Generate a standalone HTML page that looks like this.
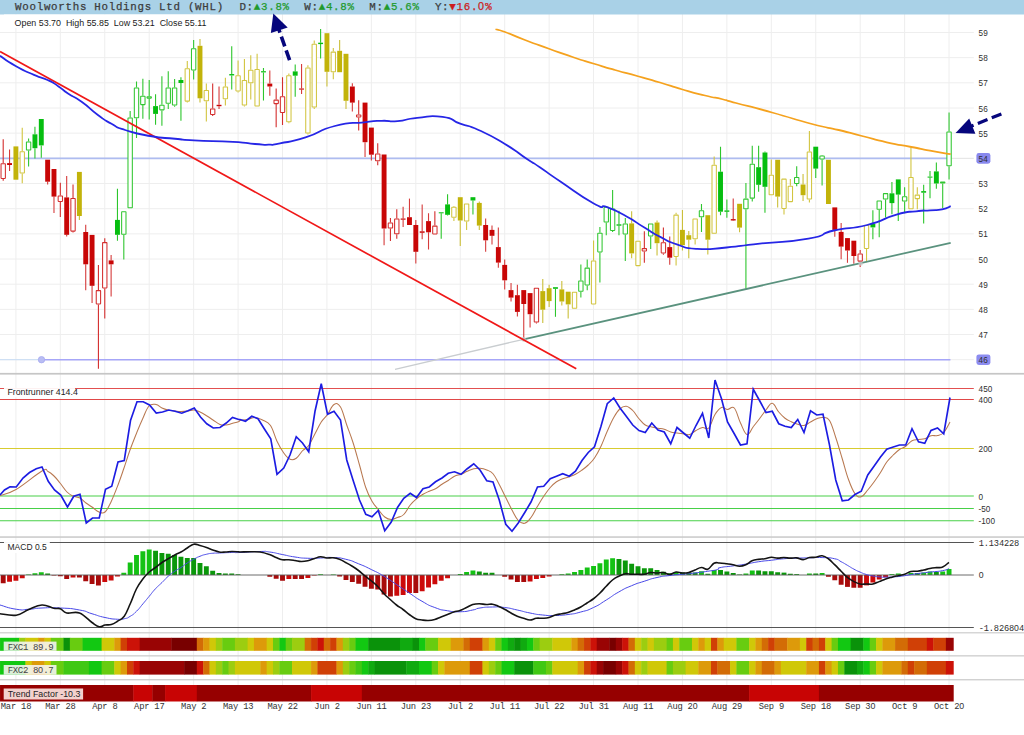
<!DOCTYPE html>
<html lang="en"><head><meta charset="utf-8"><title>Woolworths Holdings Ltd (WHL)</title>
<style>
html,body{margin:0;padding:0;background:#fff;overflow:hidden}
svg{display:block}
.mono{font-family:"Liberation Mono","DejaVu Sans Mono",monospace}
.sans,.z{font-family:"Liberation Sans","DejaVu Sans",sans-serif}
.ttl{font-size:10.8px;font-weight:normal;fill:#3c3c3c;stroke:#3c3c3c;stroke-width:0.25px}
.ax{font-size:8.2px;fill:#303030}
.axm{font-size:8.7px;fill:#303030}
.lbl{font-size:8.8px;fill:#1c1c1c}
.xl{font-size:8.8px;fill:#333333}
.fx{font-size:9px;fill:#444444}
.grid line{stroke:#eeeeee;stroke-width:1}
</style></head><body>
<svg width="1024" height="735" viewBox="0 0 1024 735">
<rect x="0" y="0" width="1024" height="735" fill="#ffffff"/>
<g class="grid">
<line x1="15.9" y1="14" x2="15.9" y2="702"/>
<line x1="60.33" y1="14" x2="60.33" y2="702"/>
<line x1="104.77" y1="14" x2="104.77" y2="702"/>
<line x1="149.2" y1="14" x2="149.2" y2="702"/>
<line x1="193.64" y1="14" x2="193.64" y2="702"/>
<line x1="238.08" y1="14" x2="238.08" y2="702"/>
<line x1="282.51" y1="14" x2="282.51" y2="702"/>
<line x1="326.95" y1="14" x2="326.95" y2="702"/>
<line x1="371.38" y1="14" x2="371.38" y2="702"/>
<line x1="415.82" y1="14" x2="415.82" y2="702"/>
<line x1="460.26" y1="14" x2="460.26" y2="702"/>
<line x1="504.69" y1="14" x2="504.69" y2="702"/>
<line x1="549.13" y1="14" x2="549.13" y2="702"/>
<line x1="593.56" y1="14" x2="593.56" y2="702"/>
<line x1="638" y1="14" x2="638" y2="702"/>
<line x1="682.44" y1="14" x2="682.44" y2="702"/>
<line x1="726.87" y1="14" x2="726.87" y2="702"/>
<line x1="771.31" y1="14" x2="771.31" y2="702"/>
<line x1="815.74" y1="14" x2="815.74" y2="702"/>
<line x1="860.18" y1="14" x2="860.18" y2="702"/>
<line x1="904.62" y1="14" x2="904.62" y2="702"/>
<line x1="949.05" y1="14" x2="949.05" y2="702"/>
<line x1="0" y1="359.7" x2="973.8" y2="359.7"/>
<line x1="0" y1="334.53" x2="973.8" y2="334.53"/>
<line x1="0" y1="309.36" x2="973.8" y2="309.36"/>
<line x1="0" y1="284.19" x2="973.8" y2="284.19"/>
<line x1="0" y1="259.02" x2="973.8" y2="259.02"/>
<line x1="0" y1="233.85" x2="973.8" y2="233.85"/>
<line x1="0" y1="208.68" x2="973.8" y2="208.68"/>
<line x1="0" y1="183.51" x2="973.8" y2="183.51"/>
<line x1="0" y1="133.17" x2="973.8" y2="133.17"/>
<line x1="0" y1="108" x2="973.8" y2="108"/>
<line x1="0" y1="82.83" x2="973.8" y2="82.83"/>
<line x1="0" y1="57.66" x2="973.8" y2="57.66"/>
<line x1="0" y1="32.49" x2="973.8" y2="32.49"/>
</g>
<rect x="0" y="0" width="1024" height="14.5" fill="#a9d1e7"/>
<text class="mono ttl" x="15.1 22.3 29.5 36.7 43.9 51.1 58.3 65.5 72.7 79.9 87.1 94.3 101.5 108.7 115.9 123.1 130.3 137.5 144.7 151.9 159.1 166.3 173.5 180.7 187.9 195.1 202.3 209.5 216.7" y="10"  xml:space="preserve">Woolworths Holdings Ltd (WHL)</text>
<text class="mono ttl" x="239.4 246.6" y="10"  xml:space="preserve">D:</text>
<text class="mono ttl" x="253.8 261 268.2 275.4 282.6" y="10" style="fill:#1f9a2c;stroke:#1f9a2c" xml:space="preserve">▲3.8%</text>
<text class="mono ttl" x="304.3 311.5" y="10"  xml:space="preserve">W:</text>
<text class="mono ttl" x="318.7 325.9 333.1 340.3 347.5" y="10" style="fill:#1f9a2c;stroke:#1f9a2c" xml:space="preserve">▲4.8%</text>
<text class="mono ttl" x="369.3 376.5" y="10"  xml:space="preserve">M:</text>
<text class="mono ttl" x="383.7 390.9 398.1 405.3 412.5" y="10" style="fill:#1f9a2c;stroke:#1f9a2c" xml:space="preserve">▲5.6%</text>
<text class="mono ttl" x="434.9 442.1" y="10"  xml:space="preserve">Y:</text>
<text class="mono ttl" x="449.3 456.5 463.7 470.9 478.1 485.3" y="10" style="fill:#cc1c1c;stroke:#cc1c1c" xml:space="preserve">▼16.<tspan class="z">0</tspan>%</text>
<rect x="4" y="14.5" width="206" height="13.6" fill="#ffffff"/><text class="sans" x="14.6" y="25.9" font-size="8.9" fill="#1a1a1a" xml:space="preserve">Open 53.70  High 55.85  Low 53.21  Close 55.11</text>
<line x1="0" y1="158.34" x2="973.8" y2="158.34" stroke="#e2e2e2" stroke-width="1"/>
<line x1="0" y1="158.34" x2="951" y2="158.34" stroke="#aebcf0" stroke-width="1.8"/>
<line x1="0" y1="359.7" x2="41.5" y2="359.7" stroke="#cfe0f4" stroke-width="1.2"/>
<line x1="41.5" y1="359.7" x2="950.4" y2="359.7" stroke="#a6a6f8" stroke-width="1.4"/>
<circle cx="41.5" cy="359.7" r="3.2" fill="#b9bdf3" stroke="#a6aaf0" stroke-width="0.8"/>
<g stroke-linecap="butt">
<path d="M3.2 139.2V163.3M3.2 178.9V180.7" stroke="#d42e2e" stroke-width="1.1" fill="none"/>
<rect x="1.03" y="163.8" width="4.35" height="14.6" fill="#ffffff" stroke="#d42e2e" stroke-width="1.05" rx="0.3"/>
<path d="M9.55 149.4V163.1M9.55 165V170.9" stroke="#d63c3c" stroke-width="1.1" fill="none"/>
<rect x="7.1" y="163.1" width="4.9" height="1.9" fill="#c80606"/>
<path d="M15.9 146.4V146.4M15.9 179.7V179.7" stroke="#cbbf3a" stroke-width="1.1" fill="none"/>
<rect x="13.45" y="146.4" width="4.9" height="33.3" fill="#c2b30a"/>
<path d="M22.24 127.8V151.3M22.24 173.5V183.3" stroke="#d2c540" stroke-width="1.1" fill="none"/>
<rect x="20.07" y="151.8" width="4.35" height="21.2" fill="#ffffff" stroke="#d2c540" stroke-width="1.05" rx="0.3"/>
<path d="M28.59 138.6V141.5M28.59 150.5V166.6" stroke="#30c630" stroke-width="1.1" fill="none"/>
<rect x="26.42" y="142" width="4.35" height="8" fill="#ffffff" stroke="#30c630" stroke-width="1.05" rx="0.3"/>
<path d="M34.94 126.8V134.3M34.94 148.2V158.4" stroke="#2cc62c" stroke-width="1.1" fill="none"/>
<rect x="32.49" y="134.3" width="4.9" height="13.9" fill="#06be10"/>
<path d="M41.29 119V119M41.29 145.4V157.8" stroke="#2cc62c" stroke-width="1.1" fill="none"/>
<rect x="38.84" y="119" width="4.9" height="26.4" fill="#06be10"/>
<path d="M47.64 159.7V159.7M47.64 181.7V184.6" stroke="#d63c3c" stroke-width="1.1" fill="none"/>
<rect x="45.19" y="159.7" width="4.9" height="22" fill="#c80606"/>
<path d="M53.98 169V169M53.98 196.6V213" stroke="#d63c3c" stroke-width="1.1" fill="none"/>
<rect x="51.53" y="169" width="4.9" height="27.6" fill="#c80606"/>
<path d="M60.33 182.7V195.4M60.33 201.9V217.1" stroke="#d42e2e" stroke-width="1.1" fill="none"/>
<rect x="58.16" y="195.9" width="4.35" height="5.5" fill="#ffffff" stroke="#d42e2e" stroke-width="1.05" rx="0.3"/>
<path d="M66.68 176V197.4M66.68 234.8V236.5" stroke="#d63c3c" stroke-width="1.1" fill="none"/>
<rect x="64.23" y="197.4" width="4.9" height="37.4" fill="#c80606"/>
<path d="M73.03 184.6V198M73.03 231.6V232.4" stroke="#d42e2e" stroke-width="1.1" fill="none"/>
<rect x="70.85" y="198.5" width="4.35" height="32.6" fill="#ffffff" stroke="#d42e2e" stroke-width="1.05" rx="0.3"/>
<path d="M79.38 171.9V171.9M79.38 216V219.9" stroke="#cbbf3a" stroke-width="1.1" fill="none"/>
<rect x="76.93" y="171.9" width="4.9" height="44.1" fill="#c2b30a"/>
<path d="M85.72 224.8V232M85.72 264.3V290.3" stroke="#d63c3c" stroke-width="1.1" fill="none"/>
<rect x="83.27" y="232" width="4.9" height="32.3" fill="#c80606"/>
<path d="M92.07 234.9V234.9M92.07 285.8V302.9" stroke="#d63c3c" stroke-width="1.1" fill="none"/>
<rect x="89.62" y="234.9" width="4.9" height="50.9" fill="#c80606"/>
<path d="M98.42 264.9V290.1M98.42 304.4V368.7" stroke="#d42e2e" stroke-width="1.1" fill="none"/>
<rect x="96.25" y="290.6" width="4.35" height="13.3" fill="#ffffff" stroke="#d42e2e" stroke-width="1.05" rx="0.3"/>
<path d="M104.77 238.2V242.1M104.77 288.4V318.5" stroke="#d42e2e" stroke-width="1.1" fill="none"/>
<rect x="102.59" y="242.6" width="4.35" height="45.3" fill="#ffffff" stroke="#d42e2e" stroke-width="1.05" rx="0.3"/>
<path d="M111.12 255.1V260.4M111.12 264.3V296.6" stroke="#d63c3c" stroke-width="1.1" fill="none"/>
<rect x="108.67" y="260.4" width="4.9" height="3.9" fill="#c80606"/>
<path d="M117.46 188.7V219.9M117.46 234.8V240.8" stroke="#2cc62c" stroke-width="1.1" fill="none"/>
<rect x="115.01" y="219.9" width="4.9" height="14.9" fill="#06be10"/>
<path d="M123.81 234.8V259.4" stroke="#30c630" stroke-width="1.1" fill="none"/>
<rect x="121.64" y="211.8" width="4.35" height="22.5" fill="#ffffff" stroke="#30c630" stroke-width="1.05" rx="0.3"/>
<path d="M130.16 111V117.5" stroke="#30c630" stroke-width="1.1" fill="none"/>
<rect x="127.98" y="118" width="4.35" height="89.8" fill="#ffffff" stroke="#30c630" stroke-width="1.05" rx="0.3"/>
<path d="M136.51 81.6V87.5M136.51 118.2V138" stroke="#30c630" stroke-width="1.1" fill="none"/>
<rect x="134.33" y="88" width="4.35" height="29.7" fill="#ffffff" stroke="#30c630" stroke-width="1.05" rx="0.3"/>
<path d="M142.86 78.7V95.7M142.86 105.1V118.8" stroke="#30c630" stroke-width="1.1" fill="none"/>
<rect x="140.68" y="96.2" width="4.35" height="8.4" fill="#ffffff" stroke="#30c630" stroke-width="1.05" rx="0.3"/>
<path d="M149.2 80V96.3M149.2 98.6V119.4" stroke="#30c630" stroke-width="1.1" fill="none"/>
<rect x="147.03" y="96.8" width="4.35" height="1.3" fill="#ffffff" stroke="#30c630" stroke-width="1.05" rx="0.3"/>
<path d="M155.55 94.3V106.1M155.55 113.9V124.7" stroke="#2cc62c" stroke-width="1.1" fill="none"/>
<rect x="153.1" y="106.1" width="4.9" height="7.8" fill="#06be10"/>
<path d="M161.9 76.3V104.7M161.9 110.4V125.7" stroke="#30c630" stroke-width="1.1" fill="none"/>
<rect x="159.72" y="105.2" width="4.35" height="4.7" fill="#ffffff" stroke="#30c630" stroke-width="1.05" rx="0.3"/>
<path d="M168.25 71.2V87.5M168.25 103.7V109" stroke="#30c630" stroke-width="1.1" fill="none"/>
<rect x="166.07" y="88" width="4.35" height="15.2" fill="#ffffff" stroke="#30c630" stroke-width="1.05" rx="0.3"/>
<path d="M174.6 79V87.5M174.6 105.5V106.7" stroke="#30c630" stroke-width="1.1" fill="none"/>
<rect x="172.42" y="88" width="4.35" height="17" fill="#ffffff" stroke="#30c630" stroke-width="1.05" rx="0.3"/>
<path d="M180.94 77.3V80M180.94 83V120.8" stroke="#2cc62c" stroke-width="1.1" fill="none"/>
<rect x="178.49" y="80" width="4.9" height="3" fill="#06be10"/>
<path d="M187.29 61V68.3M187.29 101.6V102.6" stroke="#d2c540" stroke-width="1.1" fill="none"/>
<rect x="185.12" y="68.8" width="4.35" height="32.3" fill="#ffffff" stroke="#d2c540" stroke-width="1.05" rx="0.3"/>
<path d="M193.64 39.9V48.3M193.64 70.4V79.6" stroke="#30c630" stroke-width="1.1" fill="none"/>
<rect x="191.46" y="48.8" width="4.35" height="21.1" fill="#ffffff" stroke="#30c630" stroke-width="1.05" rx="0.3"/>
<path d="M199.99 39.1V45.8M199.99 98.3V102.6" stroke="#cbbf3a" stroke-width="1.1" fill="none"/>
<rect x="197.54" y="45.8" width="4.9" height="52.5" fill="#c2b30a"/>
<path d="M206.34 83.6V90M206.34 101.2V121.4" stroke="#d2c540" stroke-width="1.1" fill="none"/>
<rect x="204.16" y="90.5" width="4.35" height="10.2" fill="#ffffff" stroke="#d2c540" stroke-width="1.05" rx="0.3"/>
<path d="M212.68 83.6V108.4M212.68 114.9V115.9" stroke="#d42e2e" stroke-width="1.1" fill="none"/>
<rect x="210.51" y="108.9" width="4.35" height="5.5" fill="#ffffff" stroke="#d42e2e" stroke-width="1.05" rx="0.3"/>
<path d="M219.03 86.5V104.8M219.03 106.2V109" stroke="#d63c3c" stroke-width="1.1" fill="none"/>
<rect x="216.58" y="104.8" width="4.9" height="1.4" fill="#c80606"/>
<path d="M225.38 77.7V86.5M225.38 99.2V105.5" stroke="#d2c540" stroke-width="1.1" fill="none"/>
<rect x="223.2" y="87" width="4.35" height="11.7" fill="#ffffff" stroke="#d2c540" stroke-width="1.05" rx="0.3"/>
<path d="M231.73 46.3V74.05M231.73 75.45V89.4" stroke="#2cc62c" stroke-width="1.1" fill="none"/>
<rect x="229.28" y="74.05" width="4.9" height="1.4" fill="#06be10"/>
<path d="M238.08 60.4V75.3M238.08 91.4V92.4" stroke="#d2c540" stroke-width="1.1" fill="none"/>
<rect x="235.9" y="75.8" width="4.35" height="15.1" fill="#ffffff" stroke="#d2c540" stroke-width="1.05" rx="0.3"/>
<path d="M244.42 59.1V80M244.42 105.5V106.5" stroke="#d2c540" stroke-width="1.1" fill="none"/>
<rect x="242.25" y="80.5" width="4.35" height="24.5" fill="#ffffff" stroke="#d2c540" stroke-width="1.05" rx="0.3"/>
<path d="M250.77 55.2V69.8M250.77 83.2V99.6" stroke="#d2c540" stroke-width="1.1" fill="none"/>
<rect x="248.6" y="70.3" width="4.35" height="12.4" fill="#ffffff" stroke="#d2c540" stroke-width="1.05" rx="0.3"/>
<path d="M257.12 53.8V68.9" stroke="#d2c540" stroke-width="1.1" fill="none"/>
<rect x="254.94" y="69.4" width="4.35" height="36.6" fill="#ffffff" stroke="#d2c540" stroke-width="1.05" rx="0.3"/>
<path d="M263.47 67.9V71.2M263.47 72.4V100.6" stroke="#2cc62c" stroke-width="1.1" fill="none"/>
<rect x="261.02" y="71.2" width="4.9" height="1.2" fill="#06be10"/>
<path d="M269.82 70.4V83.6M269.82 86.5V95.7" stroke="#d63c3c" stroke-width="1.1" fill="none"/>
<rect x="267.37" y="83.6" width="4.9" height="2.9" fill="#c80606"/>
<path d="M276.16 88.5V99.6M276.16 104.1V127.2" stroke="#d42e2e" stroke-width="1.1" fill="none"/>
<rect x="273.99" y="100.1" width="4.35" height="3.5" fill="#ffffff" stroke="#d42e2e" stroke-width="1.05" rx="0.3"/>
<path d="M282.51 77.3V96.3M282.51 112.9V125.1" stroke="#d42e2e" stroke-width="1.1" fill="none"/>
<rect x="280.34" y="96.8" width="4.35" height="15.6" fill="#ffffff" stroke="#d42e2e" stroke-width="1.05" rx="0.3"/>
<path d="M288.86 73.4V75.3M288.86 122.3V123.3" stroke="#d2c540" stroke-width="1.1" fill="none"/>
<rect x="286.68" y="75.8" width="4.35" height="46" fill="#ffffff" stroke="#d2c540" stroke-width="1.05" rx="0.3"/>
<path d="M295.21 64.6V71.4M295.21 75.7V96.7" stroke="#2cc62c" stroke-width="1.1" fill="none"/>
<rect x="292.76" y="71.4" width="4.9" height="4.3" fill="#06be10"/>
<path d="M301.56 64V88.5M301.56 89.6V93.9" stroke="#d63c3c" stroke-width="1.1" fill="none"/>
<rect x="299.11" y="88.5" width="4.9" height="1.1" fill="#c80606"/>
<path d="M307.9 65.3V67.5M307.9 133.5V134.5" stroke="#d2c540" stroke-width="1.1" fill="none"/>
<rect x="305.73" y="68" width="4.35" height="65" fill="#ffffff" stroke="#d2c540" stroke-width="1.05" rx="0.3"/>
<path d="M314.25 40.5V43.8M314.25 107.5V109" stroke="#d2c540" stroke-width="1.1" fill="none"/>
<rect x="312.08" y="44.3" width="4.35" height="62.7" fill="#ffffff" stroke="#d2c540" stroke-width="1.05" rx="0.3"/>
<path d="M320.6 29.1V42.7M320.6 44.1V58.5" stroke="#2cc62c" stroke-width="1.1" fill="none"/>
<rect x="318.15" y="42.7" width="4.9" height="1.4" fill="#06be10"/>
<path d="M326.95 33.2V33.2M326.95 71.8V86.5" stroke="#cbbf3a" stroke-width="1.1" fill="none"/>
<rect x="324.5" y="33.2" width="4.9" height="38.6" fill="#c2b30a"/>
<path d="M333.3 47.9V51.6M333.3 72.2V79.3" stroke="#d2c540" stroke-width="1.1" fill="none"/>
<rect x="331.12" y="52.1" width="4.35" height="19.6" fill="#ffffff" stroke="#d2c540" stroke-width="1.05" rx="0.3"/>
<path d="M339.64 39.9V50.8M339.64 72.2V72.2" stroke="#cbbf3a" stroke-width="1.1" fill="none"/>
<rect x="337.19" y="50.8" width="4.9" height="21.4" fill="#c2b30a"/>
<path d="M345.99 53.8V53.8M345.99 100.8V109" stroke="#cbbf3a" stroke-width="1.1" fill="none"/>
<rect x="343.54" y="53.8" width="4.9" height="47" fill="#c2b30a"/>
<path d="M352.34 83.2V86.5M352.34 102.6V111.4" stroke="#d63c3c" stroke-width="1.1" fill="none"/>
<rect x="349.89" y="86.5" width="4.9" height="16.1" fill="#c80606"/>
<path d="M358.69 100.2V114.5M358.69 117.4V130.6" stroke="#d42e2e" stroke-width="1.1" fill="none"/>
<rect x="356.51" y="115" width="4.35" height="1.9" fill="#ffffff" stroke="#d42e2e" stroke-width="1.05" rx="0.3"/>
<path d="M365.04 102.6V102.6M365.04 142.2V156.9" stroke="#d63c3c" stroke-width="1.1" fill="none"/>
<rect x="362.59" y="102.6" width="4.9" height="39.6" fill="#c80606"/>
<path d="M371.38 127.6V127.6M371.38 154.7V160.4" stroke="#d63c3c" stroke-width="1.1" fill="none"/>
<rect x="368.93" y="127.6" width="4.9" height="27.1" fill="#c80606"/>
<path d="M377.73 143.3V153.5M377.73 161.3V165.3" stroke="#d42e2e" stroke-width="1.1" fill="none"/>
<rect x="375.56" y="154" width="4.35" height="6.8" fill="#ffffff" stroke="#d42e2e" stroke-width="1.05" rx="0.3"/>
<path d="M384.08 154.5V154.5M384.08 228.5V245.2" stroke="#d63c3c" stroke-width="1.1" fill="none"/>
<rect x="381.63" y="154.5" width="4.9" height="74" fill="#c80606"/>
<path d="M390.43 218.1V222.5M390.43 228.5V241" stroke="#d42e2e" stroke-width="1.1" fill="none"/>
<rect x="388.25" y="223" width="4.35" height="5" fill="#ffffff" stroke="#d42e2e" stroke-width="1.05" rx="0.3"/>
<path d="M396.78 209.3V218.5M396.78 234.2V238.7" stroke="#d42e2e" stroke-width="1.1" fill="none"/>
<rect x="394.6" y="219" width="4.35" height="14.7" fill="#ffffff" stroke="#d42e2e" stroke-width="1.05" rx="0.3"/>
<path d="M403.12 206.8V218.5M403.12 219.7V227" stroke="#d63c3c" stroke-width="1.1" fill="none"/>
<rect x="400.67" y="218.5" width="4.9" height="1.2" fill="#c80606"/>
<path d="M409.47 198.6V217.2M409.47 225V225" stroke="#d63c3c" stroke-width="1.1" fill="none"/>
<rect x="407.02" y="217.2" width="4.9" height="7.8" fill="#c80606"/>
<path d="M415.82 220.1V225M415.82 251.8V263.6" stroke="#d63c3c" stroke-width="1.1" fill="none"/>
<rect x="413.37" y="225" width="4.9" height="26.8" fill="#c80606"/>
<path d="M422.17 204.4V231.3M422.17 232.8V239.3" stroke="#d63c3c" stroke-width="1.1" fill="none"/>
<rect x="419.72" y="231.3" width="4.9" height="1.5" fill="#c80606"/>
<path d="M428.52 213.3V221.1M428.52 232.3V249.5" stroke="#d63c3c" stroke-width="1.1" fill="none"/>
<rect x="426.07" y="221.1" width="4.9" height="11.2" fill="#c80606"/>
<path d="M434.86 211.3V225.6" stroke="#d42e2e" stroke-width="1.1" fill="none"/>
<rect x="432.69" y="226.1" width="4.35" height="7.8" fill="#ffffff" stroke="#d42e2e" stroke-width="1.05" rx="0.3"/>
<path d="M441.21 212.3V212.3M441.21 213.3V238.7" stroke="#2cc62c" stroke-width="1.1" fill="none"/>
<rect x="438.76" y="212.3" width="4.9" height="1" fill="#06be10"/>
<path d="M447.56 194.3V204.4M447.56 214.8V215.6" stroke="#2cc62c" stroke-width="1.1" fill="none"/>
<rect x="445.11" y="204.4" width="4.9" height="10.4" fill="#06be10"/>
<path d="M453.91 206V206.8M453.91 217.8V221.1" stroke="#d2c540" stroke-width="1.1" fill="none"/>
<rect x="451.73" y="207.3" width="4.35" height="10" fill="#ffffff" stroke="#d2c540" stroke-width="1.05" rx="0.3"/>
<path d="M460.26 197.2V197.2M460.26 220.5V246" stroke="#cbbf3a" stroke-width="1.1" fill="none"/>
<rect x="457.81" y="197.2" width="4.9" height="23.3" fill="#c2b30a"/>
<path d="M466.6 221.5V229.9" stroke="#d2c540" stroke-width="1.1" fill="none"/>
<rect x="464.43" y="204" width="4.35" height="17" fill="#ffffff" stroke="#d2c540" stroke-width="1.05" rx="0.3"/>
<path d="M472.95 197.2V197.2M472.95 200.5V214.6" stroke="#2cc62c" stroke-width="1.1" fill="none"/>
<rect x="470.5" y="197.2" width="4.9" height="3.3" fill="#06be10"/>
<path d="M479.3 201.5V202.9M479.3 225.6V229.9" stroke="#cbbf3a" stroke-width="1.1" fill="none"/>
<rect x="476.85" y="202.9" width="4.9" height="22.7" fill="#c2b30a"/>
<path d="M485.65 218.5V225M485.65 240.3V251.8" stroke="#d63c3c" stroke-width="1.1" fill="none"/>
<rect x="483.2" y="225" width="4.9" height="15.3" fill="#c80606"/>
<path d="M492 225.4V229.9M492 235.8V244.6" stroke="#d63c3c" stroke-width="1.1" fill="none"/>
<rect x="489.55" y="229.9" width="4.9" height="5.9" fill="#c80606"/>
<path d="M498.34 227.4V247.1M498.34 262.6V267.7" stroke="#d63c3c" stroke-width="1.1" fill="none"/>
<rect x="495.89" y="247.1" width="4.9" height="15.5" fill="#c80606"/>
<path d="M504.69 259.5V264.9M504.69 280.3V289.4" stroke="#d63c3c" stroke-width="1.1" fill="none"/>
<rect x="502.24" y="264.9" width="4.9" height="15.4" fill="#c80606"/>
<path d="M511.04 282.9V290.1M511.04 297.6V301.5" stroke="#d63c3c" stroke-width="1.1" fill="none"/>
<rect x="508.59" y="290.1" width="4.9" height="7.5" fill="#c80606"/>
<path d="M517.39 284.8V295.2M517.39 311.9V316.6" stroke="#d63c3c" stroke-width="1.1" fill="none"/>
<rect x="514.94" y="295.2" width="4.9" height="16.7" fill="#c80606"/>
<path d="M523.74 290.1V290.1M523.74 304V340.7" stroke="#d63c3c" stroke-width="1.1" fill="none"/>
<rect x="521.29" y="290.1" width="4.9" height="13.9" fill="#c80606"/>
<path d="M530.08 293.1V293.1M530.08 314.2V327.4" stroke="#d63c3c" stroke-width="1.1" fill="none"/>
<rect x="527.63" y="293.1" width="4.9" height="21.1" fill="#c80606"/>
<path d="M536.43 322.5V323.6" stroke="#d42e2e" stroke-width="1.1" fill="none"/>
<rect x="534.26" y="288.3" width="4.35" height="33.7" fill="#ffffff" stroke="#d42e2e" stroke-width="1.05" rx="0.3"/>
<path d="M542.78 279V291.1M542.78 309.7V323" stroke="#cbbf3a" stroke-width="1.1" fill="none"/>
<rect x="540.33" y="291.1" width="4.9" height="18.6" fill="#c2b30a"/>
<path d="M549.13 284.8V288.2M549.13 301.1V307" stroke="#cbbf3a" stroke-width="1.1" fill="none"/>
<rect x="546.68" y="288.2" width="4.9" height="12.9" fill="#c2b30a"/>
<path d="M555.48 287.2V287.2M555.48 288.8V316.8" stroke="#2cc62c" stroke-width="1.1" fill="none"/>
<rect x="553.03" y="287.2" width="4.9" height="1.6" fill="#06be10"/>
<path d="M561.82 280.9V289.4M561.82 301.5V305.4" stroke="#cbbf3a" stroke-width="1.1" fill="none"/>
<rect x="559.37" y="289.4" width="4.9" height="12.1" fill="#c2b30a"/>
<path d="M568.17 291.7V291.7M568.17 304.4V318.5" stroke="#cbbf3a" stroke-width="1.1" fill="none"/>
<rect x="565.72" y="291.7" width="4.9" height="12.7" fill="#c2b30a"/>
<rect x="572.35" y="292.2" width="4.35" height="16" fill="#ffffff" stroke="#d2c540" stroke-width="1.05" rx="0.3"/>
<path d="M580.87 264.5V280.5M580.87 291.7V297.6" stroke="#30c630" stroke-width="1.1" fill="none"/>
<rect x="578.69" y="281" width="4.35" height="10.2" fill="#ffffff" stroke="#30c630" stroke-width="1.05" rx="0.3"/>
<path d="M587.22 259.5V267.6M587.22 285.4V290.3" stroke="#30c630" stroke-width="1.1" fill="none"/>
<rect x="585.04" y="268.1" width="4.35" height="16.8" fill="#ffffff" stroke="#30c630" stroke-width="1.05" rx="0.3"/>
<path d="M593.56 240.5V260.4" stroke="#d2c540" stroke-width="1.1" fill="none"/>
<rect x="591.39" y="260.9" width="4.35" height="43" fill="#ffffff" stroke="#d2c540" stroke-width="1.05" rx="0.3"/>
<path d="M599.91 227V232.8M599.91 252.4V282.5" stroke="#30c630" stroke-width="1.1" fill="none"/>
<rect x="597.74" y="233.3" width="4.35" height="18.6" fill="#ffffff" stroke="#30c630" stroke-width="1.05" rx="0.3"/>
<path d="M606.26 222.5V235.2" stroke="#30c630" stroke-width="1.1" fill="none"/>
<rect x="604.09" y="207.3" width="4.35" height="14.7" fill="#ffffff" stroke="#30c630" stroke-width="1.05" rx="0.3"/>
<path d="M612.61 190.1V208.4M612.61 230.9V231.9" stroke="#30c630" stroke-width="1.1" fill="none"/>
<rect x="610.43" y="208.9" width="4.35" height="21.5" fill="#ffffff" stroke="#30c630" stroke-width="1.05" rx="0.3"/>
<path d="M618.96 210.7V224.3M618.96 225.7V235.2" stroke="#2cc62c" stroke-width="1.1" fill="none"/>
<rect x="616.51" y="224.3" width="4.9" height="1.4" fill="#06be10"/>
<path d="M625.3 218.1V223.4M625.3 234.4V261" stroke="#30c630" stroke-width="1.1" fill="none"/>
<rect x="623.13" y="223.9" width="4.35" height="10" fill="#ffffff" stroke="#30c630" stroke-width="1.05" rx="0.3"/>
<path d="M631.65 211.3V223.4M631.65 253.4V258.3" stroke="#cbbf3a" stroke-width="1.1" fill="none"/>
<rect x="629.2" y="223.4" width="4.9" height="30" fill="#c2b30a"/>
<rect x="635.83" y="241.2" width="4.35" height="24.4" fill="#ffffff" stroke="#d2c540" stroke-width="1.05" rx="0.3"/>
<path d="M644.35 231.3V248.1M644.35 251.4V262.8" stroke="#d42e2e" stroke-width="1.1" fill="none"/>
<rect x="642.17" y="248.6" width="4.35" height="2.3" fill="#ffffff" stroke="#d42e2e" stroke-width="1.05" rx="0.3"/>
<path d="M650.7 236.4V248.9" stroke="#30c630" stroke-width="1.1" fill="none"/>
<rect x="648.52" y="223.9" width="4.35" height="12" fill="#ffffff" stroke="#30c630" stroke-width="1.05" rx="0.3"/>
<path d="M657.04 220.5V222.5M657.04 243.2V255.4" stroke="#cbbf3a" stroke-width="1.1" fill="none"/>
<rect x="654.59" y="222.5" width="4.9" height="20.7" fill="#c2b30a"/>
<path d="M663.39 227.4V242.2M663.39 253.4V254.8" stroke="#d42e2e" stroke-width="1.1" fill="none"/>
<rect x="661.22" y="242.7" width="4.35" height="10.2" fill="#ffffff" stroke="#d42e2e" stroke-width="1.05" rx="0.3"/>
<path d="M669.74 236.4V247.1M669.74 257.7V264.8" stroke="#d63c3c" stroke-width="1.1" fill="none"/>
<rect x="667.29" y="247.1" width="4.9" height="10.6" fill="#c80606"/>
<path d="M676.09 212.7V214.6M676.09 256.9V265.6" stroke="#d2c540" stroke-width="1.1" fill="none"/>
<rect x="673.91" y="215.1" width="4.35" height="41.3" fill="#ffffff" stroke="#d2c540" stroke-width="1.05" rx="0.3"/>
<path d="M682.44 209.9V229.9M682.44 245.2V250.5" stroke="#cbbf3a" stroke-width="1.1" fill="none"/>
<rect x="679.99" y="229.9" width="4.9" height="15.3" fill="#c2b30a"/>
<path d="M688.78 230.9V235.2M688.78 239.7V258.3" stroke="#cbbf3a" stroke-width="1.1" fill="none"/>
<rect x="686.33" y="235.2" width="4.9" height="4.5" fill="#c2b30a"/>
<path d="M695.13 239.3V244.6" stroke="#d2c540" stroke-width="1.1" fill="none"/>
<rect x="692.96" y="219" width="4.35" height="19.8" fill="#ffffff" stroke="#d2c540" stroke-width="1.05" rx="0.3"/>
<path d="M701.48 204V210.3M701.48 217.2V231.9" stroke="#30c630" stroke-width="1.1" fill="none"/>
<rect x="699.31" y="210.8" width="4.35" height="5.9" fill="#ffffff" stroke="#30c630" stroke-width="1.05" rx="0.3"/>
<path d="M707.83 215.2V215.2M707.83 239.7V254.4" stroke="#cbbf3a" stroke-width="1.1" fill="none"/>
<rect x="705.38" y="215.2" width="4.9" height="24.5" fill="#c2b30a"/>
<path d="M714.18 156.4V164.7" stroke="#d2c540" stroke-width="1.1" fill="none"/>
<rect x="712" y="165.2" width="4.35" height="68.1" fill="#ffffff" stroke="#d2c540" stroke-width="1.05" rx="0.3"/>
<path d="M720.52 146.7V171.7M720.52 211.7V215.2" stroke="#2cc62c" stroke-width="1.1" fill="none"/>
<rect x="718.07" y="171.7" width="4.9" height="40" fill="#06be10"/>
<path d="M726.87 199.5V210.4M726.87 211.8V217.8" stroke="#2cc62c" stroke-width="1.1" fill="none"/>
<rect x="724.42" y="210.4" width="4.9" height="1.4" fill="#06be10"/>
<path d="M733.22 198.6V219.1M733.22 220.5V221.1" stroke="#d63c3c" stroke-width="1.1" fill="none"/>
<rect x="730.77" y="219.1" width="4.9" height="1.4" fill="#c80606"/>
<path d="M739.57 203.8V203.8M739.57 227.6V232.3" stroke="#cbbf3a" stroke-width="1.1" fill="none"/>
<rect x="737.12" y="203.8" width="4.9" height="23.8" fill="#c2b30a"/>
<path d="M745.92 182.9V198.6M745.92 209.3V288.8" stroke="#30c630" stroke-width="1.1" fill="none"/>
<rect x="743.74" y="199.1" width="4.35" height="9.7" fill="#ffffff" stroke="#30c630" stroke-width="1.05" rx="0.3"/>
<path d="M752.26 145.7V163.7M752.26 198.6V201.5" stroke="#30c630" stroke-width="1.1" fill="none"/>
<rect x="750.09" y="164.2" width="4.35" height="33.9" fill="#ffffff" stroke="#30c630" stroke-width="1.05" rx="0.3"/>
<path d="M758.61 145.7V167.2M758.61 184.8V191.7" stroke="#2cc62c" stroke-width="1.1" fill="none"/>
<rect x="756.16" y="167.2" width="4.9" height="17.6" fill="#06be10"/>
<path d="M764.96 151.5V152.5M764.96 186.8V212.7" stroke="#2cc62c" stroke-width="1.1" fill="none"/>
<rect x="762.51" y="152.5" width="4.9" height="34.3" fill="#06be10"/>
<path d="M771.31 159.4V174.7" stroke="#d2c540" stroke-width="1.1" fill="none"/>
<rect x="769.13" y="175.2" width="4.35" height="19.5" fill="#ffffff" stroke="#d2c540" stroke-width="1.05" rx="0.3"/>
<path d="M777.66 159.8V159.8M777.66 196.6V207.4" stroke="#cbbf3a" stroke-width="1.1" fill="none"/>
<rect x="775.21" y="159.8" width="4.9" height="36.8" fill="#c2b30a"/>
<path d="M784 208.9V214.6" stroke="#d2c540" stroke-width="1.1" fill="none"/>
<rect x="781.83" y="179.1" width="4.35" height="29.3" fill="#ffffff" stroke="#d2c540" stroke-width="1.05" rx="0.3"/>
<path d="M790.35 179V185.8" stroke="#d2c540" stroke-width="1.1" fill="none"/>
<rect x="788.18" y="186.3" width="4.35" height="15.3" fill="#ffffff" stroke="#d2c540" stroke-width="1.05" rx="0.3"/>
<path d="M796.7 166.2V177M796.7 183.9V186.2" stroke="#30c630" stroke-width="1.1" fill="none"/>
<rect x="794.53" y="177.5" width="4.35" height="5.9" fill="#ffffff" stroke="#30c630" stroke-width="1.05" rx="0.3"/>
<path d="M803.05 174.1V184.5M803.05 195.2V201.1" stroke="#cbbf3a" stroke-width="1.1" fill="none"/>
<rect x="800.6" y="184.5" width="4.9" height="10.7" fill="#c2b30a"/>
<path d="M809.4 131V151.5M809.4 199.5V202.5" stroke="#d2c540" stroke-width="1.1" fill="none"/>
<rect x="807.22" y="152" width="4.35" height="47" fill="#ffffff" stroke="#d2c540" stroke-width="1.05" rx="0.3"/>
<path d="M815.74 146.7V146.7M815.74 168.6V178" stroke="#2cc62c" stroke-width="1.1" fill="none"/>
<rect x="813.29" y="146.7" width="4.9" height="21.9" fill="#06be10"/>
<path d="M822.09 155.1V155.5M822.09 159.4V185.4" stroke="#30c630" stroke-width="1.1" fill="none"/>
<rect x="819.92" y="156" width="4.35" height="2.9" fill="#ffffff" stroke="#30c630" stroke-width="1.05" rx="0.3"/>
<path d="M828.44 159.8V159.8M828.44 204V204" stroke="#cbbf3a" stroke-width="1.1" fill="none"/>
<rect x="825.99" y="159.8" width="4.9" height="44.2" fill="#c2b30a"/>
<path d="M834.79 207.4V207.4M834.79 229.9V236.8" stroke="#d63c3c" stroke-width="1.1" fill="none"/>
<rect x="832.34" y="207.4" width="4.9" height="22.5" fill="#c80606"/>
<path d="M841.14 223V231.9M841.14 246.6V259.3" stroke="#d63c3c" stroke-width="1.1" fill="none"/>
<rect x="838.69" y="231.9" width="4.9" height="14.7" fill="#c80606"/>
<path d="M847.48 238.1V238.1M847.48 250.5V262.8" stroke="#d63c3c" stroke-width="1.1" fill="none"/>
<rect x="845.03" y="238.1" width="4.9" height="12.4" fill="#c80606"/>
<path d="M853.83 240.7V240.7M853.83 256V263.8" stroke="#d63c3c" stroke-width="1.1" fill="none"/>
<rect x="851.38" y="240.7" width="4.9" height="15.3" fill="#c80606"/>
<path d="M860.18 249.9V253.4M860.18 261.6V267.1" stroke="#d42e2e" stroke-width="1.1" fill="none"/>
<rect x="858.01" y="253.9" width="4.35" height="7.2" fill="#ffffff" stroke="#d42e2e" stroke-width="1.05" rx="0.3"/>
<path d="M866.53 248.9V262.2" stroke="#d2c540" stroke-width="1.1" fill="none"/>
<rect x="864.35" y="225.5" width="4.35" height="22.9" fill="#ffffff" stroke="#d2c540" stroke-width="1.05" rx="0.3"/>
<path d="M872.88 210.3V224M872.88 227.4V239.3" stroke="#2cc62c" stroke-width="1.1" fill="none"/>
<rect x="870.43" y="224" width="4.9" height="3.4" fill="#06be10"/>
<path d="M879.22 209.7V237.3" stroke="#30c630" stroke-width="1.1" fill="none"/>
<rect x="877.05" y="201" width="4.35" height="8.2" fill="#ffffff" stroke="#30c630" stroke-width="1.05" rx="0.3"/>
<path d="M885.57 199.5V217.6" stroke="#30c630" stroke-width="1.1" fill="none"/>
<rect x="883.4" y="193.6" width="4.35" height="5.4" fill="#ffffff" stroke="#30c630" stroke-width="1.05" rx="0.3"/>
<path d="M891.92 181.9V193.3M891.92 203.1V214.2" stroke="#2cc62c" stroke-width="1.1" fill="none"/>
<rect x="889.47" y="193.3" width="4.9" height="9.8" fill="#06be10"/>
<path d="M898.27 179.4V179.4M898.27 194.6V221.1" stroke="#2cc62c" stroke-width="1.1" fill="none"/>
<rect x="895.82" y="179.4" width="4.9" height="15.2" fill="#06be10"/>
<path d="M904.62 187.2V196.2M904.62 201.5V213.3" stroke="#30c630" stroke-width="1.1" fill="none"/>
<rect x="902.44" y="196.7" width="4.35" height="4.3" fill="#ffffff" stroke="#30c630" stroke-width="1.05" rx="0.3"/>
<path d="M910.96 147.5V177" stroke="#d2c540" stroke-width="1.1" fill="none"/>
<rect x="908.79" y="177.5" width="4.35" height="31.3" fill="#ffffff" stroke="#d2c540" stroke-width="1.05" rx="0.3"/>
<path d="M917.31 187.2V194.6M917.31 199.1V209.3" stroke="#d2c540" stroke-width="1.1" fill="none"/>
<rect x="915.14" y="195.1" width="4.35" height="3.5" fill="#ffffff" stroke="#d2c540" stroke-width="1.05" rx="0.3"/>
<path d="M923.66 184.8V191.1M923.66 192.7V223.6" stroke="#2cc62c" stroke-width="1.1" fill="none"/>
<rect x="921.21" y="191.1" width="4.9" height="1.6" fill="#06be10"/>
<path d="M930.01 171V176.6M930.01 177.6V198.3" stroke="#2cc62c" stroke-width="1.1" fill="none"/>
<rect x="927.56" y="176.6" width="4.9" height="1" fill="#06be10"/>
<path d="M936.36 162.5V171.4M936.36 183.5V188.7" stroke="#2cc62c" stroke-width="1.1" fill="none"/>
<rect x="933.91" y="171.4" width="4.9" height="12.1" fill="#06be10"/>
<path d="M942.7 183.5V208" stroke="#30c630" stroke-width="1.1" fill="none"/>
<rect x="940.53" y="182" width="4.35" height="1" fill="#ffffff" stroke="#30c630" stroke-width="1.05" rx="0.3"/>
<path d="M949.05 112.5V131.4M949.05 166.2V179.5" stroke="#30c630" stroke-width="1.1" fill="none"/>
<rect x="946.88" y="131.9" width="4.35" height="33.8" fill="#ffffff" stroke="#30c630" stroke-width="1.05" rx="0.3"/>
</g>
<line x1="395" y1="369.3" x2="523.6" y2="339.3" stroke="#c9cdd0" stroke-width="1.3"/>
<line x1="523.6" y1="339.3" x2="950.7" y2="242.8" stroke="#5a927e" stroke-width="1.75"/>
<circle cx="523.6" cy="339.3" r="2.4" fill="#c8c8c8" opacity="0.8"/>
<circle cx="860.7" cy="263.6" r="2.2" fill="#c8c8c8" opacity="0.8"/>
<line x1="0" y1="51.6" x2="576.3" y2="368.8" stroke="#f01818" stroke-width="1.7"/>
<path d="M0 55.8C5.2 59.2 4.27 59.63 15.6 66C26.93 72.37 23.33 70.23 34 74.9C44.67 79.57 39.43 76.17 47.6 80C55.77 83.83 51.7 81.87 58.5 86.4C65.3 90.93 60.3 88.47 68 93.6C75.7 98.73 71.63 94.67 81.6 101.8C91.57 108.93 87.93 107.67 97.9 115C107.87 122.33 102.43 118.8 111.5 123.8C120.57 128.8 112.27 125.93 125.1 130C137.93 134.07 133.37 133.08 150 136C166.63 138.92 160.33 137.28 175 138.75C189.67 140.22 174.67 139.35 194 140.4C213.33 141.45 212.67 140.7 233 141.9C253.33 143.1 243.17 143.07 255 144C266.83 144.93 260.17 144.93 268.5 144.7C276.83 144.47 267.67 145.73 280 143.3C292.33 140.87 287.23 143.17 305.5 137.4C323.77 131.63 315.23 131.03 334.8 126C354.37 120.97 348.5 124.03 364.2 122.3C379.9 120.57 370.8 121.17 381.9 120.8C393 120.43 385.77 122.2 397.5 121.2C409.23 120.2 402.07 119.23 417.1 117.8C432.13 116.37 428.23 114.93 442.6 116.9C456.97 118.87 448.23 119.33 460.2 123.7C472.17 128.07 463.73 123.33 478.5 130C493.27 136.67 488.33 134.03 504.5 143.7C520.67 153.37 515.23 151.17 527 159C538.77 166.83 528.8 159.77 539.8 167.2C550.8 174.63 542.17 169.3 560 181.3C577.83 193.3 577.4 194.5 593.3 203.2C609.2 211.9 596.6 202.97 607.7 207.4C618.8 211.83 614.37 209.77 626.6 216.5C638.83 223.23 633.03 220.73 644.4 227.6C655.77 234.47 649.67 231.43 660.7 237.1C671.73 242.77 665.37 240.67 677.5 244.6C689.63 248.53 680.77 247.93 697.1 248.9C713.43 249.87 705.6 249.27 726.5 247.5C747.4 245.73 732.5 246.53 759.8 243.6C787.1 240.67 783.73 243.07 808.4 238.7C833.07 234.33 814.23 235.07 833.8 230.5C853.37 225.93 846.2 230.3 867.1 225C888 219.7 880.17 219.17 896.5 214.6C912.83 210.03 904.93 212.73 916.1 211.3C927.27 209.87 921.37 210.97 930 210.3C938.63 209.63 935.1 210.67 942 209.3C948.9 207.93 947.8 207.23 950.7 206.2" fill="none" stroke="#2626e6" stroke-width="1.8" stroke-linejoin="round"/>
<path d="M495.5 29.25C498.67 30.17 495.17 28.42 505 32C514.83 35.58 510.33 34.42 525 40C539.67 45.58 533.17 43.08 549 48.75C564.83 54.42 557.5 52 572.5 57C587.5 62 579.83 59.42 594 63.75C608.17 68.08 600.33 65.83 615 70C629.67 74.17 623 72.08 638 76.25C653 80.42 645.17 78.08 660 82.5C674.83 86.92 667.5 85.17 682.5 89.5C697.5 93.83 691.67 92.25 705 95.5C718.33 98.75 712.17 96.75 722.5 99.25C732.83 101.75 719.5 98.58 736 103C752.5 107.42 746.67 105.5 772 112.5C797.33 119.5 789.77 118.17 812 124C834.23 129.83 822.03 126 838.7 130C855.37 134 846 131.9 862 136C878 140.1 870.27 138.63 886.7 142.3C903.13 145.97 896.87 144.23 911.3 147C925.73 149.77 916.87 148.2 930 150.6C943.13 153 943.8 153 950.7 154.2" fill="none" stroke="#f5a21e" stroke-width="1.8" stroke-linejoin="round"/>
<line x1="289.6" y1="60.2" x2="278.7" y2="29" stroke="#06067c" stroke-width="3.6" stroke-dasharray="10.4 4.2"/>
<polygon points="273.3,13.6 270.9,33 287.7,27.5" fill="#06067c"/>
<line x1="1001.4" y1="113.9" x2="968" y2="127.4" stroke="#06067c" stroke-width="3.2" stroke-dasharray="10.4 4.6"/>
<polygon points="955.6,133.1 969.2,118.4 975.4,133.8" fill="#06067c"/>
<rect x="976.4" y="354.4" width="14" height="10.6" rx="2.4" fill="#8c8cf0"/>
<text class="sans ax" x="978.6" y="363.2">46</text>
<text class="sans ax" x="978.6" y="338.03">47</text>
<text class="sans ax" x="978.6" y="312.86">48</text>
<text class="sans ax" x="978.6" y="287.69">49</text>
<text class="sans ax" x="978.6" y="262.52">50</text>
<text class="sans ax" x="978.6" y="237.35">51</text>
<text class="sans ax" x="978.6" y="212.18">52</text>
<text class="sans ax" x="978.6" y="187.01">53</text>
<rect x="976.4" y="153.04" width="14" height="10.6" rx="2.4" fill="#8888ee"/>
<text class="sans ax" x="978.6" y="161.84">54</text>
<text class="sans ax" x="978.6" y="136.67">55</text>
<text class="sans ax" x="978.6" y="111.5">56</text>
<text class="sans ax" x="978.6" y="86.33">57</text>
<text class="sans ax" x="978.6" y="61.16">58</text>
<text class="sans ax" x="978.6" y="35.99">59</text>
<rect x="0" y="372.9" width="1024" height="1.7" fill="#c6c6c6"/>
<rect x="0" y="536.3" width="1024" height="1.5" fill="#c9c9c9"/>
<rect x="0" y="632.2" width="1024" height="1.2" fill="#cccccc"/>
<rect x="0" y="655.2" width="1024" height="1.3" fill="#cdcdcd"/>
<rect x="0" y="679.1" width="1024" height="1.3" fill="#cdcdcd"/>
<line x1="0" y1="388.5" x2="973.8" y2="388.5" stroke="#e25050" stroke-width="1.05"/>
<text class="sans ax" x="978.6" y="392.1">450</text>
<line x1="0" y1="399.5" x2="973.8" y2="399.5" stroke="#e04848" stroke-width="1.05"/>
<text class="sans ax" x="978.6" y="403.1">400</text>
<line x1="0" y1="448.4" x2="973.8" y2="448.4" stroke="#d8cc30" stroke-width="1.05"/>
<text class="sans ax" x="978.6" y="452">200</text>
<line x1="0" y1="495.9" x2="973.8" y2="495.9" stroke="#48d048" stroke-width="1.05"/>
<text class="sans ax" x="978.6" y="499.5">0</text>
<line x1="0" y1="508.5" x2="973.8" y2="508.5" stroke="#48d048" stroke-width="1.05"/>
<text class="sans ax" x="978.6" y="512.1">-50</text>
<line x1="0" y1="520.7" x2="973.8" y2="520.7" stroke="#48d048" stroke-width="1.05"/>
<text class="sans ax" x="978.6" y="524.3">-100</text>
<path d="M0 495.5C3.2 494.3 7.6 494.4 16 489.5C24.4 484.6 35.6 474.6 42 471C48.4 467.4 45.6 470.5 48 471.5C50.4 472.5 51.6 473.7 54 476C56.4 478.3 57.4 479.8 60 483C62.6 486.2 64.4 489.4 67 492C69.6 494.6 70.4 494.8 73 496C75.6 497.2 77.4 496.6 80 498C82.6 499.4 83.6 501.2 86 503C88.4 504.8 89.4 505.2 92 507C94.6 508.8 96.4 511 99 512C101.6 513 102.6 514 105 512C107.4 510 108.4 507.4 111 502C113.6 496.6 115.4 491.8 118 485C120.6 478.2 121.6 475 124 468C126.4 461 127.4 457.2 130 450C132.6 442.8 134.4 438.4 137 432C139.6 425.6 140.6 423.2 143 418C145.4 412.8 146.4 408.7 149 406C151.6 403.3 153.4 404.1 156 404.5C158.6 404.9 159.6 406.9 162 408C164.4 409.1 165.4 409.4 168 410C170.6 410.6 172.4 410.7 175 411C177.6 411.3 178.4 411.5 181 411.5C183.6 411.5 185.4 411.3 188 411C190.6 410.7 191.6 409.8 194 410C196.4 410.2 197.4 410.8 200 412C202.6 413.2 204.4 414.4 207 416C209.6 417.6 210.4 418.3 213 420C215.6 421.7 217.4 423.5 220 424.5C222.6 425.5 223.6 425.2 226 425C228.4 424.8 229.4 424.2 232 423.5C234.6 422.8 237.4 422.1 239 421.5C240.6 420.9 238.3 420.9 240 420.5C241.7 420.1 244.5 420.1 247.5 419.5C250.5 418.9 252 417.4 255 417.5C258 417.6 259.4 418.4 262.5 420C265.6 421.6 267.6 421.25 270.5 425.5C273.4 429.75 274.35 435.75 277 441.25C279.65 446.75 281.15 449.4 283.75 453C286.35 456.6 287.5 458.2 290 459.25C292.5 460.3 293.75 459.95 296.25 458.25C298.75 456.55 300 453.3 302.5 450.75C305 448.2 306.25 448.9 308.75 445.5C311.25 442.1 312.5 438.45 315 433.75C317.5 429.05 318.75 425.85 321.25 422C323.75 418.15 324.95 418 327.5 414.5C330.05 411 331.4 406 334 404.5C336.6 403 337.95 402.9 340.5 407C343.05 411.1 344.25 417.9 346.75 425C349.25 432.1 350.45 434.5 353 442.5C355.55 450.5 356.95 456 359.5 465C362.05 474 363.25 480.25 365.75 487.5C368.25 494.75 369.5 496.85 372 501.25C374.5 505.65 375.7 506.35 378.25 509.5C380.8 512.65 382.15 515 384.75 517C387.35 519 388.7 519.4 391.25 519.5C393.8 519.6 395 518.5 397.5 517.5C400 516.5 401.2 517 403.75 514.5C406.3 512 407.7 508.15 410.25 505C412.8 501.85 413.95 500.9 416.5 498.75C419.05 496.6 420.45 495.75 423 494.25C425.55 492.75 426.75 492.35 429.25 491.25C431.75 490.15 432.95 490.15 435.5 488.75C438.05 487.35 439.45 485.9 442 484.25C444.55 482.6 445.75 482.1 448.25 480.5C450.75 478.9 451.95 477.5 454.5 476.25C457.05 475 458.45 475.25 461 474.25C463.55 473.25 464.7 472.35 467.25 471.25C469.8 470.15 471.2 469.35 473.75 468.75C476.3 468.15 477.4 468 480 468.25C482.6 468.5 484.15 468.9 486.75 470C489.35 471.1 490.5 470.85 493 473.75C495.5 476.65 496.7 479.75 499.25 484.5C501.8 489.25 503.2 492.4 505.75 497.5C508.3 502.6 509.5 505.4 512 510C514.5 514.6 515.7 517.85 518.25 520.5C520.8 523.15 522.2 523.85 524.75 523.25C527.3 522.65 528.45 520.9 531 517.5C533.55 514.1 534.95 510.5 537.5 506.25C540.05 502 541.2 500 543.75 496.25C546.3 492.5 547.7 490.4 550.25 487.5C552.8 484.6 554 483.5 556.5 481.75C559 480 560.2 479.75 562.75 478.75C565.3 477.75 566.7 477.65 569.25 476.75C571.8 475.85 572.95 475.6 575.5 474.25C578.05 472.9 579.45 471.85 582 470C584.55 468.15 585.75 467.4 588.25 465C590.75 462.6 591.95 461.75 594.5 458C597.05 454.25 598.45 451.6 601 446.25C603.55 440.9 604.7 437 607.25 431.25C609.8 425.5 611.2 422 613.75 417.5C616.3 413 617.5 411 620 408.75C622.5 406.5 623.7 405.9 626.25 406.25C628.8 406.6 630.2 408 632.75 410.5C635.3 413 636.5 415.85 639 418.75C641.5 421.65 642.7 423.35 645.25 425C647.8 426.65 649.2 426.35 651.75 427C654.3 427.65 655.5 427.8 658 428.25C660.5 428.7 661.7 428.5 664.25 429.25C666.8 430 668.2 431.25 670.75 432C673.3 432.75 674.45 432.65 677 433C679.55 433.35 680.95 433.45 683.5 433.75C686.05 434.05 687.25 435.15 689.75 434.5C692.25 433.85 693.45 431.9 696 430.5C698.55 429.1 699.95 428 702.5 427.5C705.05 427 706.25 430.6 708.75 428C711.25 425.4 712.45 418.6 715 414.5C717.55 410.4 719 408.5 721.5 407.5C724 406.5 724.95 409.4 727.5 409.5C730.05 409.6 731.65 405.3 734.25 408C736.85 410.7 737.95 417.7 740.5 423C743.05 428.3 744.45 433.75 747 434.5C749.55 435.25 750.75 429.9 753.25 426.75C755.75 423.6 756.95 422.1 759.5 418.75C762.05 415.4 763.45 413.1 766 410C768.55 406.9 769.7 402.85 772.25 403.25C774.8 403.65 776.2 409 778.75 412C781.3 415 782.5 416.3 785 418.25C787.5 420.2 788.7 420.55 791.25 421.75C793.8 422.95 795.2 423.5 797.75 424.25C800.3 425 801.45 425.95 804 425.5C806.55 425.05 807.95 423.35 810.5 422C813.05 420.65 814.25 419.65 816.75 418.75C819.25 417.85 820.45 417.15 823 417.5C825.55 417.85 826.95 416.5 829.5 420.5C832.05 424.5 833.2 429.85 835.75 437.5C838.3 445.15 839.7 450.35 842.25 458.75C844.8 467.15 845.95 472.5 848.5 479.5C851.05 486.5 852.45 490.3 855 493.75C857.55 497.2 858.7 497.5 861.25 496.75C863.8 496 865.2 492.95 867.75 490C870.3 487.05 871.45 485.5 874 482C876.55 478.5 877.95 476.5 880.5 472.5C883.05 468.5 884.2 465.5 886.75 462C889.3 458.5 890.7 457.5 893.25 455C895.8 452.5 897 451.25 899.5 449.5C902 447.75 903.25 448 905.75 446.25C908.25 444.5 909.45 442.1 912 440.75C914.55 439.4 915.95 439.9 918.5 439.5C921.05 439.1 922.25 439.5 924.75 438.75C927.25 438 928.45 436.4 931 435.75C933.55 435.1 934.95 436.15 937.5 435.5C940.05 434.85 941.25 435.2 943.75 432.5C946.25 429.8 948.75 424.1 950 422" fill="none" stroke="#b87850" stroke-width="1.05" stroke-linejoin="round"/>
<polyline points="0,495 4.5,490 10,486.75 16.25,487 23,478 29.5,472.5 36.25,468.75 42,467 48.25,481.25 54.5,490 60.75,495 67.5,507 73.75,496.25 80,494.25 86.25,523 92.5,518 99.25,518 105.5,489.25 111.75,486.25 118,462 124.25,460.5 130.5,420.5 137,401.75 143.25,401.75 149.5,405 156.25,413 162.5,412 168.75,410 175,411.25 181.75,413.25 188,410.75 194.25,408 200.5,417 206.75,423.75 213.25,428 220,427.5 226.25,423 232.5,417.5 238.75,419.5 240,419.5 245.5,421.25 251.75,416.25 258,418.75 264.25,428.75 270.75,438.75 277,474.25 283.75,468 290,455 296.25,436.75 302.5,443 308.75,451.75 315,411.25 321.25,383.75 327.5,414.25 334,411.25 340.5,420 346.75,460 353,480 359.5,500 365.75,514.25 372,516.75 378.25,510.5 384.75,530.75 391.25,522 397.5,507.5 403.75,498.25 410.25,493.25 416.5,497.5 423,488.75 429.25,487 435.5,481.75 442,478 448.25,473.25 454.5,471.75 461,474.25 467.25,468.75 473.75,463.75 480,470 486.75,480.75 493,482 499.25,500 505.75,524.25 512,531.25 518.25,523 524.75,512.5 531,502 537.5,487 543.75,486.25 550.25,478.75 556.5,476.25 562.75,473.75 569.25,476.25 575.5,471.25 582,460.5 588.25,452.5 594.5,446.75 601,426.25 607.25,403.75 613.75,398 620,408 626.25,416.25 632.75,425 639,430.5 645.25,432.5 651.75,423 658,430 664.25,432 670.75,443.75 677,427.5 683.5,433 689.75,438.25 696,425.5 702.5,413.25 708.75,438 715,380 721.5,398.75 727.5,422 734.25,433.75 740.5,445 747,443.75 753.25,389.25 759.5,400.5 766,412.5 772.25,411.25 778.75,423.75 785,426.25 791.25,427.5 797.75,419.5 804,432.5 810.5,410.75 816.75,415 823,414.25 829.5,445 835.75,480 842.25,500.75 848.5,500 855,494.5 861.25,491.25 867.75,475 874,466.25 880.5,457 886.75,449.25 893.25,447 899.5,445 905.75,445 912,428.75 918.5,441.75 924.75,443.25 931,430.5 937.5,428 943.75,433.75 950,397.5" fill="none" stroke="#1c1ce2" stroke-width="1.65" stroke-linejoin="miter"/>
<rect x="4" y="387.9" width="71" height="9.4" fill="#ffffff" opacity="0.92"/>
<text class="sans lbl" x="7.4" y="395.2">Frontrunner 414.4</text>
<line x1="0" y1="542.5" x2="973.8" y2="542.5" stroke="#555555" stroke-width="1"/>
<line x1="0" y1="627.5" x2="973.8" y2="627.5" stroke="#555555" stroke-width="1"/>
<rect x="0.75" y="575" width="4.9" height="8.25" fill="#a80a0a"/>
<rect x="7.1" y="575" width="4.9" height="6.75" fill="#cc0a0a"/>
<rect x="13.45" y="575" width="4.9" height="5.75" fill="#cc0a0a"/>
<rect x="19.79" y="575" width="4.9" height="3.25" fill="#cc0a0a"/>
<rect x="26.14" y="574.5" width="4.9" height="0.5" fill="#14c214"/>
<rect x="32.49" y="573.25" width="4.9" height="1.75" fill="#14c214"/>
<rect x="38.84" y="572.25" width="4.9" height="2.75" fill="#14c214"/>
<rect x="45.19" y="573.5" width="4.9" height="1.5" fill="#0a980a"/>
<rect x="51.53" y="575" width="4.9" height="0.5" fill="#a80a0a"/>
<rect x="57.88" y="575" width="4.9" height="1.25" fill="#a80a0a"/>
<rect x="64.23" y="575" width="4.9" height="4" fill="#a80a0a"/>
<rect x="70.58" y="575" width="4.9" height="2.5" fill="#cc0a0a"/>
<rect x="76.93" y="575" width="4.9" height="2.5" fill="#a80a0a"/>
<rect x="83.27" y="575" width="4.9" height="6.25" fill="#a80a0a"/>
<rect x="89.62" y="575" width="4.9" height="9" fill="#a80a0a"/>
<rect x="95.97" y="575" width="4.9" height="10.5" fill="#a80a0a"/>
<rect x="102.32" y="575" width="4.9" height="7" fill="#cc0a0a"/>
<rect x="108.67" y="575" width="4.9" height="5.5" fill="#cc0a0a"/>
<rect x="115.01" y="575" width="4.9" height="1.5" fill="#cc0a0a"/>
<rect x="121.36" y="572.75" width="4.9" height="2.25" fill="#14c214"/>
<rect x="127.71" y="562.5" width="4.9" height="12.5" fill="#14c214"/>
<rect x="134.06" y="555" width="4.9" height="20" fill="#14c214"/>
<rect x="140.41" y="551.25" width="4.9" height="23.75" fill="#14c214"/>
<rect x="146.75" y="549.5" width="4.9" height="25.5" fill="#14c214"/>
<rect x="153.1" y="550.75" width="4.9" height="24.25" fill="#0a980a"/>
<rect x="159.45" y="553" width="4.9" height="22" fill="#0a980a"/>
<rect x="165.8" y="553.75" width="4.9" height="21.25" fill="#0a980a"/>
<rect x="172.15" y="555" width="4.9" height="20" fill="#0a980a"/>
<rect x="178.49" y="556.75" width="4.9" height="18.25" fill="#0a980a"/>
<rect x="184.84" y="558" width="4.9" height="17" fill="#0a980a"/>
<rect x="191.19" y="558" width="4.9" height="17" fill="#0a980a"/>
<rect x="197.54" y="563" width="4.9" height="12" fill="#0a980a"/>
<rect x="203.89" y="566.25" width="4.9" height="8.75" fill="#0a980a"/>
<rect x="210.23" y="570.75" width="4.9" height="4.25" fill="#0a980a"/>
<rect x="216.58" y="573" width="4.9" height="2" fill="#0a980a"/>
<rect x="222.93" y="573.5" width="4.9" height="1.5" fill="#0a980a"/>
<rect x="229.28" y="573.5" width="4.9" height="1.5" fill="#0a980a"/>
<rect x="235.63" y="574.25" width="4.9" height="0.75" fill="#0a980a"/>
<rect x="267.37" y="575" width="4.9" height="1.75" fill="#a80a0a"/>
<rect x="273.71" y="575" width="4.9" height="3.75" fill="#a80a0a"/>
<rect x="280.06" y="575" width="4.9" height="5.75" fill="#a80a0a"/>
<rect x="286.41" y="575" width="4.9" height="4" fill="#cc0a0a"/>
<rect x="292.76" y="575" width="4.9" height="4" fill="#a80a0a"/>
<rect x="299.11" y="575" width="4.9" height="4" fill="#a80a0a"/>
<rect x="305.45" y="575" width="4.9" height="3" fill="#cc0a0a"/>
<rect x="311.8" y="575" width="4.9" height="0.5" fill="#cc0a0a"/>
<rect x="318.15" y="574.25" width="4.9" height="0.75" fill="#14c214"/>
<rect x="330.85" y="574.5" width="4.9" height="0.5" fill="#14c214"/>
<rect x="337.19" y="575" width="4.9" height="1.5" fill="#a80a0a"/>
<rect x="343.54" y="575" width="4.9" height="5" fill="#a80a0a"/>
<rect x="349.89" y="575" width="4.9" height="7" fill="#a80a0a"/>
<rect x="356.24" y="575" width="4.9" height="8.75" fill="#a80a0a"/>
<rect x="362.59" y="575" width="4.9" height="11.75" fill="#a80a0a"/>
<rect x="368.93" y="575" width="4.9" height="13.75" fill="#a80a0a"/>
<rect x="375.28" y="575" width="4.9" height="14.5" fill="#a80a0a"/>
<rect x="381.63" y="575" width="4.9" height="19.5" fill="#a80a0a"/>
<rect x="387.98" y="575" width="4.9" height="21.5" fill="#a80a0a"/>
<rect x="394.33" y="575" width="4.9" height="20.75" fill="#cc0a0a"/>
<rect x="400.67" y="575" width="4.9" height="20" fill="#cc0a0a"/>
<rect x="407.02" y="575" width="4.9" height="18" fill="#cc0a0a"/>
<rect x="413.37" y="575" width="4.9" height="18" fill="#a80a0a"/>
<rect x="419.72" y="575" width="4.9" height="16.25" fill="#cc0a0a"/>
<rect x="426.07" y="575" width="4.9" height="12.5" fill="#cc0a0a"/>
<rect x="432.41" y="575" width="4.9" height="9.25" fill="#cc0a0a"/>
<rect x="438.76" y="575" width="4.9" height="5.75" fill="#cc0a0a"/>
<rect x="445.11" y="575" width="4.9" height="3.25" fill="#cc0a0a"/>
<rect x="457.81" y="574" width="4.9" height="1" fill="#14c214"/>
<rect x="464.15" y="572" width="4.9" height="3" fill="#14c214"/>
<rect x="470.5" y="570.5" width="4.9" height="4.5" fill="#14c214"/>
<rect x="476.85" y="571.5" width="4.9" height="3.5" fill="#0a980a"/>
<rect x="483.2" y="572.75" width="4.9" height="2.25" fill="#0a980a"/>
<rect x="489.55" y="572.75" width="4.9" height="2.25" fill="#0a980a"/>
<rect x="502.24" y="575" width="4.9" height="1.75" fill="#a80a0a"/>
<rect x="508.59" y="575" width="4.9" height="4.5" fill="#a80a0a"/>
<rect x="514.94" y="575" width="4.9" height="7" fill="#a80a0a"/>
<rect x="521.29" y="575" width="4.9" height="7" fill="#a80a0a"/>
<rect x="527.63" y="575" width="4.9" height="6.5" fill="#cc0a0a"/>
<rect x="533.98" y="575" width="4.9" height="4" fill="#cc0a0a"/>
<rect x="540.33" y="575" width="4.9" height="3" fill="#cc0a0a"/>
<rect x="546.68" y="575" width="4.9" height="1.5" fill="#cc0a0a"/>
<rect x="559.37" y="574.25" width="4.9" height="0.75" fill="#14c214"/>
<rect x="565.72" y="573.5" width="4.9" height="1.5" fill="#14c214"/>
<rect x="572.07" y="572" width="4.9" height="3" fill="#14c214"/>
<rect x="578.42" y="570" width="4.9" height="5" fill="#14c214"/>
<rect x="584.77" y="567.5" width="4.9" height="7.5" fill="#14c214"/>
<rect x="591.11" y="566" width="4.9" height="9" fill="#14c214"/>
<rect x="597.46" y="563.25" width="4.9" height="11.75" fill="#14c214"/>
<rect x="603.81" y="559.5" width="4.9" height="15.5" fill="#14c214"/>
<rect x="610.16" y="558.25" width="4.9" height="16.75" fill="#14c214"/>
<rect x="616.51" y="559" width="4.9" height="16" fill="#0a980a"/>
<rect x="622.85" y="560.5" width="4.9" height="14.5" fill="#0a980a"/>
<rect x="629.2" y="563.75" width="4.9" height="11.25" fill="#0a980a"/>
<rect x="635.55" y="566.25" width="4.9" height="8.75" fill="#0a980a"/>
<rect x="641.9" y="568.25" width="4.9" height="6.75" fill="#0a980a"/>
<rect x="648.25" y="568.25" width="4.9" height="6.75" fill="#0a980a"/>
<rect x="654.59" y="570" width="4.9" height="5" fill="#0a980a"/>
<rect x="660.94" y="571.75" width="4.9" height="3.25" fill="#0a980a"/>
<rect x="667.29" y="573.25" width="4.9" height="1.75" fill="#0a980a"/>
<rect x="673.64" y="572" width="4.9" height="3" fill="#14c214"/>
<rect x="679.99" y="572.5" width="4.9" height="2.5" fill="#0a980a"/>
<rect x="686.33" y="572.5" width="4.9" height="2.5" fill="#0a980a"/>
<rect x="692.68" y="572.5" width="4.9" height="2.5" fill="#0a980a"/>
<rect x="699.03" y="571.25" width="4.9" height="3.75" fill="#14c214"/>
<rect x="705.38" y="573.75" width="4.9" height="1.25" fill="#0a980a"/>
<rect x="711.73" y="570" width="4.9" height="5" fill="#14c214"/>
<rect x="718.07" y="570" width="4.9" height="5" fill="#0a980a"/>
<rect x="724.42" y="571.5" width="4.9" height="3.5" fill="#0a980a"/>
<rect x="730.77" y="573" width="4.9" height="2" fill="#0a980a"/>
<rect x="737.12" y="574.5" width="4.9" height="0.5" fill="#0a980a"/>
<rect x="743.47" y="573.5" width="4.9" height="1.5" fill="#14c214"/>
<rect x="749.81" y="570.5" width="4.9" height="4.5" fill="#14c214"/>
<rect x="756.16" y="570.5" width="4.9" height="4.5" fill="#0a980a"/>
<rect x="762.51" y="571.25" width="4.9" height="3.75" fill="#0a980a"/>
<rect x="768.86" y="571.25" width="4.9" height="3.75" fill="#0a980a"/>
<rect x="775.21" y="572.25" width="4.9" height="2.75" fill="#0a980a"/>
<rect x="781.55" y="572.62" width="4.9" height="2.38" fill="#0a980a"/>
<rect x="787.9" y="573.75" width="4.9" height="1.25" fill="#0a980a"/>
<rect x="794.25" y="574.12" width="4.9" height="0.88" fill="#0a980a"/>
<rect x="806.95" y="573.5" width="4.9" height="1.5" fill="#14c214"/>
<rect x="813.29" y="573.5" width="4.9" height="1.5" fill="#0a980a"/>
<rect x="819.64" y="573" width="4.9" height="2" fill="#14c214"/>
<rect x="825.99" y="575" width="4.9" height="1.75" fill="#a80a0a"/>
<rect x="832.34" y="575" width="4.9" height="5.25" fill="#a80a0a"/>
<rect x="838.69" y="575" width="4.9" height="9.75" fill="#a80a0a"/>
<rect x="845.03" y="575" width="4.9" height="11.88" fill="#a80a0a"/>
<rect x="851.38" y="575" width="4.9" height="12.75" fill="#a80a0a"/>
<rect x="857.73" y="575" width="4.9" height="12.75" fill="#a80a0a"/>
<rect x="864.08" y="575" width="4.9" height="10.38" fill="#cc0a0a"/>
<rect x="870.43" y="575" width="4.9" height="7.5" fill="#cc0a0a"/>
<rect x="876.77" y="575" width="4.9" height="4.5" fill="#cc0a0a"/>
<rect x="883.12" y="575" width="4.9" height="2.38" fill="#cc0a0a"/>
<rect x="889.47" y="574.12" width="4.9" height="0.88" fill="#14c214"/>
<rect x="895.82" y="573.5" width="4.9" height="1.5" fill="#14c214"/>
<rect x="908.51" y="573" width="4.9" height="2" fill="#14c214"/>
<rect x="914.86" y="573" width="4.9" height="2" fill="#0a980a"/>
<rect x="921.21" y="572.62" width="4.9" height="2.38" fill="#14c214"/>
<rect x="927.56" y="571.5" width="4.9" height="3.5" fill="#14c214"/>
<rect x="933.91" y="572" width="4.9" height="3" fill="#0a980a"/>
<rect x="940.25" y="571.5" width="4.9" height="3.5" fill="#14c214"/>
<rect x="946.6" y="569" width="4.9" height="6" fill="#14c214"/>
<line x1="0" y1="575" x2="973.8" y2="575" stroke="#5c5c5c" stroke-width="0.9"/>
<path d="M0 605C5.42 606.42 6.67 607.83 16.25 609.25C25.83 610.67 20.17 609.67 28.75 609.25C37.33 608.83 31.5 608.42 42 608C52.5 607.58 47.75 607.33 60.25 608C72.75 608.67 68.92 608.08 79.5 610C90.08 611.92 83.5 611.25 92 613.75C100.5 616.25 96.5 615.67 105 617.5C113.5 619.33 111.08 618.83 117.5 619.25C123.92 619.67 120 619.75 124.25 618.75C128.5 617.75 126.17 618.75 130.25 616.25C134.33 613.75 132.25 615.42 136.5 611.25C140.75 607.08 138.75 608.75 143 603.75C147.25 598.75 145.08 601.25 149.25 596.25C153.42 591.25 151.25 593.33 155.5 588.75C159.75 584.17 157.75 586.67 162 582.5C166.25 578.33 164 580 168.25 576.25C172.5 572.5 170.5 574.17 174.75 571.25C179 568.33 176.83 570.25 181 567.5C185.17 564.75 183 565.75 187.25 563C191.5 560.25 189.5 561.5 193.75 559.25C198 557 195.75 557.92 200 556.25C204.25 554.58 202.25 555.25 206.5 554.25C210.75 553.25 208.5 553.67 212.75 553.25C217 552.83 212.92 553.25 219.25 553C225.58 552.75 224.83 552.67 231.75 552.5C238.67 552.33 230.58 552.83 240 552.5C249.42 552.17 250.17 551.67 260 551.5C269.83 551.33 262.08 551 269.5 552C276.92 553 273.75 552.83 282.25 554.5C290.75 556.17 286.5 555.75 295 557C303.5 558.25 299.25 557.92 307.75 558.25C316.25 558.58 312.08 558.25 320.5 558C328.92 557.75 324.58 557.08 333 557.5C341.42 557.92 337.25 557.17 345.75 559.25C354.25 561.33 350 560.33 358.5 563.75C367 567.17 362.75 565.33 371.25 569.5C379.75 573.67 375.58 571.25 384 576.25C392.42 581.25 388.08 578.92 396.5 584.5C404.92 590.08 400.75 587.42 409.25 593C417.75 598.58 413.5 596.42 422 601.25C430.5 606.08 426.25 604.33 434.75 607.5C443.25 610.67 439.08 609.33 447.5 610.75C455.92 612.17 451.58 612 460 611.75C468.42 611.5 466.08 611.25 472.75 610C479.42 608.75 473.42 609 480 608C486.58 607 484.33 607.17 492.5 607C500.67 606.83 496.25 606.5 504.5 607.5C512.75 608.5 508.75 608.17 517.25 610C525.75 611.83 521.5 611.33 530 613C538.5 614.67 534.33 614.17 542.75 615C551.17 615.83 546.83 615.67 555.25 615.5C563.67 615.33 559.5 615.67 568 614.5C576.5 613.33 572.25 614.33 580.75 612C589.25 609.67 585 611.5 593.5 607.5C602 603.5 597.83 605.17 606.25 600C614.67 594.83 610.33 596.75 618.75 592C627.17 587.25 623 589.33 631.5 585.75C640 582.17 635.75 584 644.25 581.25C652.75 578.5 648.5 579.42 657 577.5C665.5 575.58 661.33 576.58 669.75 575.5C678.17 574.42 673.83 575.08 682.25 574.25C690.67 573.42 686.5 574 695 573C703.5 572 700.25 572.42 707.75 571.25C715.25 570.08 713.42 570.7 717.5 569.5C721.58 568.3 714.81 568.87 720 567.66C725.19 566.45 724.45 567.07 733.06 565.88C741.67 564.69 737.32 565.48 745.83 564.1C754.34 562.71 750.09 563.01 758.6 561.72C767.11 560.44 762.95 561.23 771.37 560.24C779.78 559.25 775.42 559.45 783.84 558.75C792.25 558.06 788.09 558.46 796.6 558.16C805.11 557.86 800.86 558.06 809.37 557.86C817.88 557.66 813.73 557.27 822.14 557.57C830.55 557.86 828.27 557.37 834.61 558.75C840.94 560.14 836.88 559.54 841.14 561.72C845.4 563.9 843.12 562.81 847.38 565.29C851.63 567.76 849.65 566.87 853.91 569.14C858.16 571.42 855.99 570.33 860.14 572.11C864.3 573.9 862.12 573.2 866.38 574.49C870.63 575.78 868.65 575.18 872.91 575.97C877.17 576.77 874.89 576.47 879.14 576.86C883.4 577.26 879.34 577.26 885.68 577.16C892.01 577.06 891.81 577.06 898.15 576.57C904.48 576.07 898.25 576.67 904.68 575.68C911.11 574.69 909.03 574.79 917.45 573.6C925.86 572.41 921.5 573.1 929.92 572.11C938.33 571.12 936.35 571.82 942.68 570.63C949.02 569.44 946.84 569.24 948.92 568.55" fill="none" stroke="#4848e8" stroke-width="1" stroke-linejoin="round"/>
<path d="M0 613.75C3.25 614.05 10.5 616.1 16.25 615.25C22 614.4 23.6 611.55 28.75 609.5C33.9 607.45 37 605.25 42 605C47 604.75 50.1 607.5 53.75 608.25C57.4 609 57.65 607.8 60.25 608.75C62.85 609.7 62.9 612.15 66.75 613C70.6 613.85 74.45 611.1 79.5 613C84.55 614.9 88.05 619.75 92 622.5C95.95 625.25 96.65 626.25 99.25 626.75C101.85 627.25 102.6 625.45 105 625C107.4 624.55 108.75 625.25 111.25 624.5C113.75 623.75 114.9 622.9 117.5 621.25C120.1 619.6 121.7 619.75 124.25 616.25C126.8 612.75 127.8 609.25 130.25 603.75C132.7 598.25 133.95 593.75 136.5 588.75C139.05 583.75 140.45 582.1 143 578.75C145.55 575.4 146.75 574.25 149.25 572C151.75 569.75 152.95 569.4 155.5 567.5C158.05 565.6 159.45 564.25 162 562.5C164.55 560.75 165.7 560.25 168.25 558.75C170.8 557.25 172.2 556.35 174.75 555C177.3 553.65 178.5 553.4 181 552C183.5 550.6 184.7 549.55 187.25 548C189.8 546.45 191.2 544.75 193.75 544.25C196.3 543.75 197.45 544.85 200 545.5C202.55 546.15 203.95 546.6 206.5 547.5C209.05 548.4 210.2 549.1 212.75 550C215.3 550.9 216.7 551.6 219.25 552C221.8 552.4 223 552.1 225.5 552C228 551.9 229.2 551.55 231.75 551.5C234.3 551.45 236.6 551.65 238.25 551.75C239.9 551.85 237.65 552 240 552C242.35 552 246 551.75 250 551.75C254 551.75 256.1 551.45 260 552C263.9 552.55 266.3 553.4 269.5 554.5C272.7 555.6 273.45 556.45 276 557.5C278.55 558.55 279.7 559.3 282.25 559.75C284.8 560.2 286.2 559.6 288.75 559.75C291.3 559.9 292.5 560.15 295 560.5C297.5 560.85 298.7 561.45 301.25 561.5C303.8 561.55 305.2 561.3 307.75 560.75C310.3 560.2 311.45 559.55 314 558.75C316.55 557.95 317.95 556.9 320.5 556.75C323.05 556.6 324.25 557.8 326.75 558C329.25 558.2 330.45 557.5 333 557.75C335.55 558 336.95 558.3 339.5 559.25C342.05 560.2 343.2 561.1 345.75 562.5C348.3 563.9 349.7 564.65 352.25 566.25C354.8 567.85 356 568.6 358.5 570.5C361 572.4 362.2 573.7 364.75 575.75C367.3 577.8 368.7 578.65 371.25 580.75C373.8 582.85 374.95 583.65 377.5 586.25C380.05 588.85 381.45 591.1 384 593.75C386.55 596.4 387.75 597.25 390.25 599.5C392.75 601.75 393.95 603 396.5 605C399.05 607 400.45 607.6 403 609.5C405.55 611.4 406.7 612.65 409.25 614.5C411.8 616.35 413.2 617.65 415.75 618.75C418.3 619.85 419.5 619.65 422 620C424.5 620.35 425.7 620.6 428.25 620.5C430.8 620.4 432.2 620.2 434.75 619.5C437.3 618.8 438.45 618 441 617C443.55 616 444.95 615.5 447.5 614.5C450.05 613.5 451.25 612.8 453.75 612C456.25 611.2 457.45 611.4 460 610.5C462.55 609.6 463.95 608.7 466.5 607.5C469.05 606.3 470.2 605.25 472.75 604.5C475.3 603.75 476.55 603.75 479.25 603.75C481.95 603.75 483.6 604.4 486.25 604.5C488.9 604.6 490.1 603.9 492.5 604.25C494.9 604.6 495.85 605.25 498.25 606.25C500.65 607.25 501.95 607.9 504.5 609.25C507.05 610.6 508.45 611.6 511 613C513.55 614.4 514.75 615.2 517.25 616.25C519.75 617.3 520.95 617.5 523.5 618.25C526.05 619 527.45 620 530 620C532.55 620 533.7 618.6 536.25 618.25C538.8 617.9 540.2 618.4 542.75 618.25C545.3 618.1 546.5 618.15 549 617.5C551.5 616.85 552.7 615.75 555.25 615C557.8 614.25 559.2 614.25 561.75 613.75C564.3 613.25 565.45 613.25 568 612.5C570.55 611.75 571.95 611.1 574.5 610C577.05 608.9 578.25 608.4 580.75 607C583.25 605.6 584.45 604.65 587 603C589.55 601.35 590.95 600.7 593.5 598.75C596.05 596.8 597.2 595.75 599.75 593.25C602.3 590.75 603.7 588.9 606.25 586.25C608.8 583.6 610 582 612.5 580C615 578 616.2 577.5 618.75 576.25C621.3 575 622.7 574.15 625.25 573.75C627.8 573.35 628.95 574.15 631.5 574.25C634.05 574.35 635.45 574.25 638 574.25C640.55 574.25 641.75 574.6 644.25 574.25C646.75 573.9 647.95 572.75 650.5 572.5C653.05 572.25 654.45 573 657 573C659.55 573 660.7 572.2 663.25 572.5C665.8 572.8 667.2 574.6 669.75 574.5C672.3 574.4 673.5 572.3 676 572C678.5 571.7 679.7 572.9 682.25 573C684.8 573.1 686.2 573.1 688.75 572.5C691.3 571.9 692.45 571 695 570C697.55 569 698.95 567.65 701.5 567.5C704.05 567.35 705.25 570.1 707.75 569.25C710.25 568.4 711.65 564.5 714 563.25C716.35 562 716.93 562.89 719.5 563C722.07 563.11 724.12 563.46 726.83 563.8C729.54 564.14 730.51 564.22 733.06 564.69C735.62 565.17 737.04 566.18 739.6 566.18C742.15 566.18 743.34 565.76 745.83 564.69C748.33 563.62 749.51 561.9 752.07 560.83C754.62 559.76 756.05 559.76 758.6 559.35C761.15 558.93 762.28 559.17 764.83 558.75C767.39 558.34 768.81 557.39 771.37 557.27C773.92 557.15 775.11 558.1 777.6 558.16C780.1 558.22 781.28 557.57 783.84 557.57C786.39 557.57 787.81 558.1 790.37 558.16C792.92 558.22 794.05 557.57 796.6 557.86C799.16 558.16 800.58 559.7 803.14 559.64C805.69 559.58 806.88 558.04 809.37 557.57C811.86 557.09 813.05 557.62 815.61 557.27C818.16 556.91 819.58 555.49 822.14 555.78C824.69 556.08 825.88 556.97 828.37 558.75C830.87 560.53 832.05 562.2 834.61 564.69C837.16 567.19 838.59 568.67 841.14 571.22C843.69 573.78 844.82 575.38 847.38 577.46C849.93 579.54 851.35 580.31 853.91 581.62C856.46 582.92 857.65 583.52 860.14 583.99C862.64 584.47 863.82 583.99 866.38 583.99C868.93 583.99 870.36 584.47 872.91 583.99C875.46 583.52 876.59 582.62 879.14 581.62C881.7 580.61 883.12 579.83 885.68 578.94C888.23 578.05 889.42 577.81 891.91 577.16C894.41 576.51 895.59 576.27 898.15 575.68C900.7 575.08 902.13 575.02 904.68 574.19C907.23 573.36 908.36 572.11 910.91 571.52C913.47 570.93 914.89 571.52 917.45 571.22C920 570.93 921.19 570.57 923.68 570.04C926.18 569.5 927.36 569.03 929.92 568.55C932.47 568.08 933.9 567.96 936.45 567.66C939 567.36 940.19 568.14 942.68 567.07C945.18 566 947.67 563.27 948.92 562.32" fill="none" stroke="#141414" stroke-width="1.6" stroke-linejoin="round"/>
<rect x="4" y="541.6" width="45.8" height="11.4" fill="#ffffff" opacity="0.95"/>
<text class="sans lbl" x="7.5" y="550.4" style="font-size:8.5px">MACD 0.5</text>
<text class="mono axm" x="978.7 983.75 988.8 993.85 998.9 1003.95 1009 1014.05" y="545.9"  xml:space="preserve">1.134228</text>
<text class="mono axm" x="978.7" y="577.8"  xml:space="preserve"><tspan class="z">0</tspan></text>
<text class="mono axm" x="978.7 983.75 988.8 993.85 998.9 1003.95 1009 1014.05 1019.1" y="630.9"  xml:space="preserve">-1.8268<tspan class="z">0</tspan>4</text>
<rect x="0.03" y="637.8" width="19.44" height="13" fill="#12c812"/>
<rect x="19.07" y="637.8" width="6.75" height="13" fill="#9ccd10"/>
<rect x="25.42" y="637.8" width="13.1" height="13" fill="#d0c808"/>
<rect x="38.11" y="637.8" width="6.75" height="13" fill="#dd9a0a"/>
<rect x="44.46" y="637.8" width="6.75" height="13" fill="#d0c808"/>
<rect x="50.81" y="637.8" width="13.1" height="13" fill="#68cc10"/>
<rect x="63.51" y="637.8" width="6.75" height="13" fill="#0a920a"/>
<rect x="69.85" y="637.8" width="13.1" height="13" fill="#68cc10"/>
<rect x="82.55" y="637.8" width="19.44" height="13" fill="#12c812"/>
<rect x="101.59" y="637.8" width="13.1" height="13" fill="#d0c808"/>
<rect x="114.29" y="637.8" width="6.75" height="13" fill="#dd9a0a"/>
<rect x="120.64" y="637.8" width="6.75" height="13" fill="#d04006"/>
<rect x="126.99" y="637.8" width="13.1" height="13" fill="#cc1208"/>
<rect x="139.68" y="637.8" width="32.14" height="13" fill="#990404"/>
<rect x="171.42" y="637.8" width="25.79" height="13" fill="#780000"/>
<rect x="196.81" y="637.8" width="6.75" height="13" fill="#d36c06"/>
<rect x="203.16" y="637.8" width="6.75" height="13" fill="#dd9a0a"/>
<rect x="209.51" y="637.8" width="6.75" height="13" fill="#d0c808"/>
<rect x="215.86" y="637.8" width="6.75" height="13" fill="#9ccd10"/>
<rect x="222.21" y="637.8" width="13.1" height="13" fill="#68cc10"/>
<rect x="234.9" y="637.8" width="13.1" height="13" fill="#9ccd10"/>
<rect x="247.6" y="637.8" width="6.75" height="13" fill="#d0c808"/>
<rect x="253.95" y="637.8" width="13.1" height="13" fill="#dd9a0a"/>
<rect x="266.64" y="637.8" width="6.75" height="13" fill="#d0c808"/>
<rect x="272.99" y="637.8" width="6.75" height="13" fill="#68cc10"/>
<rect x="279.34" y="637.8" width="6.75" height="13" fill="#12c812"/>
<rect x="285.69" y="637.8" width="6.75" height="13" fill="#68cc10"/>
<rect x="292.03" y="637.8" width="13.1" height="13" fill="#9ccd10"/>
<rect x="304.73" y="637.8" width="6.75" height="13" fill="#d36c06"/>
<rect x="311.08" y="637.8" width="6.75" height="13" fill="#d04006"/>
<rect x="317.43" y="637.8" width="6.75" height="13" fill="#cc1208"/>
<rect x="323.77" y="637.8" width="6.75" height="13" fill="#d36c06"/>
<rect x="330.12" y="637.8" width="6.75" height="13" fill="#d04006"/>
<rect x="336.47" y="637.8" width="6.75" height="13" fill="#dd9a0a"/>
<rect x="342.82" y="637.8" width="6.75" height="13" fill="#9ccd10"/>
<rect x="349.17" y="637.8" width="6.75" height="13" fill="#68cc10"/>
<rect x="355.51" y="637.8" width="13.1" height="13" fill="#12c812"/>
<rect x="368.21" y="637.8" width="32.14" height="13" fill="#0a920a"/>
<rect x="399.95" y="637.8" width="13.1" height="13" fill="#10aa10"/>
<rect x="412.65" y="637.8" width="6.75" height="13" fill="#0a920a"/>
<rect x="418.99" y="637.8" width="6.75" height="13" fill="#12c812"/>
<rect x="425.34" y="637.8" width="13.1" height="13" fill="#68cc10"/>
<rect x="438.04" y="637.8" width="13.1" height="13" fill="#d0c808"/>
<rect x="450.73" y="637.8" width="13.1" height="13" fill="#dd9a0a"/>
<rect x="463.43" y="637.8" width="6.75" height="13" fill="#d36c06"/>
<rect x="469.78" y="637.8" width="13.1" height="13" fill="#d04006"/>
<rect x="482.47" y="637.8" width="6.75" height="13" fill="#dd9a0a"/>
<rect x="488.82" y="637.8" width="6.75" height="13" fill="#d0c808"/>
<rect x="495.17" y="637.8" width="6.75" height="13" fill="#68cc10"/>
<rect x="501.52" y="637.8" width="6.75" height="13" fill="#12c812"/>
<rect x="507.87" y="637.8" width="6.75" height="13" fill="#10aa10"/>
<rect x="514.21" y="637.8" width="6.75" height="13" fill="#0a920a"/>
<rect x="520.56" y="637.8" width="6.75" height="13" fill="#10aa10"/>
<rect x="526.91" y="637.8" width="6.75" height="13" fill="#12c812"/>
<rect x="533.26" y="637.8" width="6.75" height="13" fill="#68cc10"/>
<rect x="539.61" y="637.8" width="13.1" height="13" fill="#9ccd10"/>
<rect x="552.3" y="637.8" width="19.44" height="13" fill="#d0c808"/>
<rect x="571.35" y="637.8" width="6.75" height="13" fill="#dd9a0a"/>
<rect x="577.69" y="637.8" width="6.75" height="13" fill="#d36c06"/>
<rect x="584.04" y="637.8" width="6.75" height="13" fill="#d04006"/>
<rect x="590.39" y="637.8" width="6.75" height="13" fill="#cc1208"/>
<rect x="596.74" y="637.8" width="13.1" height="13" fill="#990404"/>
<rect x="609.43" y="637.8" width="6.75" height="13" fill="#780000"/>
<rect x="615.78" y="637.8" width="6.75" height="13" fill="#990404"/>
<rect x="622.13" y="637.8" width="6.75" height="13" fill="#cc1208"/>
<rect x="628.48" y="637.8" width="6.75" height="13" fill="#d36c06"/>
<rect x="634.83" y="637.8" width="6.75" height="13" fill="#d0c808"/>
<rect x="641.17" y="637.8" width="6.75" height="13" fill="#9ccd10"/>
<rect x="647.52" y="637.8" width="6.75" height="13" fill="#d0c808"/>
<rect x="653.87" y="637.8" width="13.1" height="13" fill="#9ccd10"/>
<rect x="666.57" y="637.8" width="6.75" height="13" fill="#68cc10"/>
<rect x="672.91" y="637.8" width="6.75" height="13" fill="#d0c808"/>
<rect x="679.26" y="637.8" width="13.1" height="13" fill="#68cc10"/>
<rect x="691.96" y="637.8" width="6.75" height="13" fill="#d0c808"/>
<rect x="698.31" y="637.8" width="6.75" height="13" fill="#dd9a0a"/>
<rect x="704.65" y="637.8" width="6.75" height="13" fill="#d0c808"/>
<rect x="711" y="637.8" width="6.75" height="13" fill="#d04006"/>
<rect x="717.35" y="637.8" width="6.75" height="13" fill="#dd9a0a"/>
<rect x="723.7" y="637.8" width="13.1" height="13" fill="#d0c808"/>
<rect x="736.39" y="637.8" width="13.1" height="13" fill="#68cc10"/>
<rect x="749.09" y="637.8" width="6.75" height="13" fill="#d0c808"/>
<rect x="755.44" y="637.8" width="6.75" height="13" fill="#dd9a0a"/>
<rect x="761.79" y="637.8" width="6.75" height="13" fill="#d36c06"/>
<rect x="768.13" y="637.8" width="6.75" height="13" fill="#d04006"/>
<rect x="774.48" y="637.8" width="13.1" height="13" fill="#d36c06"/>
<rect x="787.18" y="637.8" width="13.1" height="13" fill="#dd9a0a"/>
<rect x="799.87" y="637.8" width="6.75" height="13" fill="#d0c808"/>
<rect x="806.22" y="637.8" width="6.75" height="13" fill="#d04006"/>
<rect x="812.57" y="637.8" width="6.75" height="13" fill="#d36c06"/>
<rect x="818.92" y="637.8" width="6.75" height="13" fill="#d04006"/>
<rect x="825.27" y="637.8" width="6.75" height="13" fill="#d0c808"/>
<rect x="831.61" y="637.8" width="6.75" height="13" fill="#68cc10"/>
<rect x="837.96" y="637.8" width="13.1" height="13" fill="#12c812"/>
<rect x="850.66" y="637.8" width="13.1" height="13" fill="#0a920a"/>
<rect x="863.35" y="637.8" width="6.75" height="13" fill="#12c812"/>
<rect x="869.7" y="637.8" width="6.75" height="13" fill="#68cc10"/>
<rect x="876.05" y="637.8" width="6.75" height="13" fill="#d0c808"/>
<rect x="882.4" y="637.8" width="13.1" height="13" fill="#dd9a0a"/>
<rect x="895.09" y="637.8" width="13.1" height="13" fill="#d36c06"/>
<rect x="907.79" y="637.8" width="19.44" height="13" fill="#d04006"/>
<rect x="926.83" y="637.8" width="6.75" height="13" fill="#cc1208"/>
<rect x="933.18" y="637.8" width="13.1" height="13" fill="#d04006"/>
<rect x="945.88" y="637.8" width="7.82" height="13" fill="#990404"/>
<rect x="0.03" y="661" width="25.79" height="13.6" fill="#12c812"/>
<rect x="25.42" y="661" width="6.75" height="13.6" fill="#d0c808"/>
<rect x="31.77" y="661" width="13.1" height="13.6" fill="#dd9a0a"/>
<rect x="44.46" y="661" width="6.75" height="13.6" fill="#d0c808"/>
<rect x="50.81" y="661" width="13.1" height="13.6" fill="#68cc10"/>
<rect x="63.51" y="661" width="25.79" height="13.6" fill="#40c814"/>
<rect x="88.9" y="661" width="13.1" height="13.6" fill="#12c812"/>
<rect x="101.59" y="661" width="13.1" height="13.6" fill="#68cc10"/>
<rect x="114.29" y="661" width="6.75" height="13.6" fill="#d0c808"/>
<rect x="120.64" y="661" width="6.75" height="13.6" fill="#dd9a0a"/>
<rect x="126.99" y="661" width="6.75" height="13.6" fill="#d04006"/>
<rect x="133.33" y="661" width="6.75" height="13.6" fill="#cc1208"/>
<rect x="139.68" y="661" width="44.84" height="13.6" fill="#990404"/>
<rect x="184.12" y="661" width="13.1" height="13.6" fill="#780000"/>
<rect x="196.81" y="661" width="6.75" height="13.6" fill="#cc1208"/>
<rect x="203.16" y="661" width="6.75" height="13.6" fill="#d36c06"/>
<rect x="209.51" y="661" width="6.75" height="13.6" fill="#d0c808"/>
<rect x="215.86" y="661" width="6.75" height="13.6" fill="#9ccd10"/>
<rect x="222.21" y="661" width="6.75" height="13.6" fill="#68cc10"/>
<rect x="228.55" y="661" width="6.75" height="13.6" fill="#9ccd10"/>
<rect x="234.9" y="661" width="25.79" height="13.6" fill="#d0c808"/>
<rect x="260.29" y="661" width="6.75" height="13.6" fill="#dd9a0a"/>
<rect x="266.64" y="661" width="6.75" height="13.6" fill="#d0c808"/>
<rect x="272.99" y="661" width="6.75" height="13.6" fill="#9ccd10"/>
<rect x="279.34" y="661" width="13.1" height="13.6" fill="#68cc10"/>
<rect x="292.03" y="661" width="19.44" height="13.6" fill="#d0c808"/>
<rect x="311.08" y="661" width="6.75" height="13.6" fill="#dd9a0a"/>
<rect x="317.43" y="661" width="19.44" height="13.6" fill="#d04006"/>
<rect x="336.47" y="661" width="6.75" height="13.6" fill="#dd9a0a"/>
<rect x="342.82" y="661" width="6.75" height="13.6" fill="#9ccd10"/>
<rect x="349.17" y="661" width="6.75" height="13.6" fill="#68cc10"/>
<rect x="355.51" y="661" width="6.75" height="13.6" fill="#40c814"/>
<rect x="361.86" y="661" width="6.75" height="13.6" fill="#12c812"/>
<rect x="368.21" y="661" width="6.75" height="13.6" fill="#10aa10"/>
<rect x="374.56" y="661" width="32.14" height="13.6" fill="#0a920a"/>
<rect x="406.3" y="661" width="13.1" height="13.6" fill="#10aa10"/>
<rect x="418.99" y="661" width="13.1" height="13.6" fill="#12c812"/>
<rect x="431.69" y="661" width="6.75" height="13.6" fill="#68cc10"/>
<rect x="438.04" y="661" width="6.75" height="13.6" fill="#d0c808"/>
<rect x="444.39" y="661" width="25.79" height="13.6" fill="#dd9a0a"/>
<rect x="469.78" y="661" width="13.1" height="13.6" fill="#d04006"/>
<rect x="482.47" y="661" width="6.75" height="13.6" fill="#d0c808"/>
<rect x="488.82" y="661" width="6.75" height="13.6" fill="#9ccd10"/>
<rect x="495.17" y="661" width="6.75" height="13.6" fill="#68cc10"/>
<rect x="501.52" y="661" width="13.1" height="13.6" fill="#12c812"/>
<rect x="514.21" y="661" width="19.44" height="13.6" fill="#0a920a"/>
<rect x="533.26" y="661" width="13.1" height="13.6" fill="#40c814"/>
<rect x="545.95" y="661" width="6.75" height="13.6" fill="#68cc10"/>
<rect x="552.3" y="661" width="25.79" height="13.6" fill="#d0c808"/>
<rect x="577.69" y="661" width="6.75" height="13.6" fill="#dd9a0a"/>
<rect x="584.04" y="661" width="6.75" height="13.6" fill="#d04006"/>
<rect x="590.39" y="661" width="6.75" height="13.6" fill="#cc1208"/>
<rect x="596.74" y="661" width="6.75" height="13.6" fill="#990404"/>
<rect x="603.09" y="661" width="13.1" height="13.6" fill="#780000"/>
<rect x="615.78" y="661" width="6.75" height="13.6" fill="#990404"/>
<rect x="622.13" y="661" width="6.75" height="13.6" fill="#cc1208"/>
<rect x="628.48" y="661" width="6.75" height="13.6" fill="#d36c06"/>
<rect x="634.83" y="661" width="6.75" height="13.6" fill="#d0c808"/>
<rect x="641.17" y="661" width="6.75" height="13.6" fill="#9ccd10"/>
<rect x="647.52" y="661" width="19.44" height="13.6" fill="#d0c808"/>
<rect x="666.57" y="661" width="6.75" height="13.6" fill="#68cc10"/>
<rect x="672.91" y="661" width="13.1" height="13.6" fill="#9ccd10"/>
<rect x="685.61" y="661" width="13.1" height="13.6" fill="#d0c808"/>
<rect x="698.31" y="661" width="13.1" height="13.6" fill="#dd9a0a"/>
<rect x="711" y="661" width="6.75" height="13.6" fill="#d04006"/>
<rect x="717.35" y="661" width="13.1" height="13.6" fill="#d36c06"/>
<rect x="730.05" y="661" width="6.75" height="13.6" fill="#d0c808"/>
<rect x="736.39" y="661" width="13.1" height="13.6" fill="#68cc10"/>
<rect x="749.09" y="661" width="6.75" height="13.6" fill="#d0c808"/>
<rect x="755.44" y="661" width="6.75" height="13.6" fill="#dd9a0a"/>
<rect x="761.79" y="661" width="13.1" height="13.6" fill="#d36c06"/>
<rect x="774.48" y="661" width="6.75" height="13.6" fill="#dd9a0a"/>
<rect x="780.83" y="661" width="25.79" height="13.6" fill="#d0c808"/>
<rect x="806.22" y="661" width="13.1" height="13.6" fill="#dd9a0a"/>
<rect x="818.92" y="661" width="6.75" height="13.6" fill="#d04006"/>
<rect x="825.27" y="661" width="6.75" height="13.6" fill="#dd9a0a"/>
<rect x="831.61" y="661" width="6.75" height="13.6" fill="#d0c808"/>
<rect x="837.96" y="661" width="6.75" height="13.6" fill="#68cc10"/>
<rect x="844.31" y="661" width="13.1" height="13.6" fill="#0a920a"/>
<rect x="857.01" y="661" width="6.75" height="13.6" fill="#10aa10"/>
<rect x="863.35" y="661" width="6.75" height="13.6" fill="#12c812"/>
<rect x="869.7" y="661" width="6.75" height="13.6" fill="#68cc10"/>
<rect x="876.05" y="661" width="6.75" height="13.6" fill="#d0c808"/>
<rect x="882.4" y="661" width="19.44" height="13.6" fill="#dd9a0a"/>
<rect x="901.44" y="661" width="6.75" height="13.6" fill="#d36c06"/>
<rect x="907.79" y="661" width="6.75" height="13.6" fill="#d04006"/>
<rect x="914.14" y="661" width="13.1" height="13.6" fill="#d36c06"/>
<rect x="926.83" y="661" width="19.44" height="13.6" fill="#d04006"/>
<rect x="945.88" y="661" width="7.82" height="13.6" fill="#cc1208"/>
<rect x="0.03" y="685" width="133.71" height="16.5" fill="#960000"/>
<rect x="133.33" y="685" width="19.44" height="16.5" fill="#c80404"/>
<rect x="152.38" y="685" width="13.1" height="16.5" fill="#960000"/>
<rect x="165.07" y="685" width="32.14" height="16.5" fill="#c80404"/>
<rect x="196.81" y="685" width="114.66" height="16.5" fill="#960000"/>
<rect x="311.08" y="685" width="51.18" height="16.5" fill="#c80404"/>
<rect x="361.86" y="685" width="387.63" height="16.5" fill="#960000"/>
<rect x="749.09" y="685" width="70.23" height="16.5" fill="#c80404"/>
<rect x="818.92" y="685" width="134.78" height="16.5" fill="#960000"/>
<rect x="3.7" y="641.6" width="52.8" height="9.2" fill="#f6f4f4" opacity="0.88"/>
<text class="mono fx" x="7.7 12.77 17.84 22.91 27.98 33.05 38.12 43.19 48.26" y="649.7"  xml:space="preserve">FXC1 89.9</text>
<rect x="3.7" y="665" width="52.8" height="9.7" fill="#f6f4f4" opacity="0.88"/>
<text class="mono fx" x="7.7 12.77 17.84 22.91 27.98 33.05 38.12 43.19 48.26" y="673.3"  xml:space="preserve">FXC2 8<tspan class="z">0</tspan>.7</text>
<rect x="3.7" y="688.5" width="79.4" height="11" fill="#f8dcd8" opacity="0.95"/>
<text class="sans lbl" x="7.8" y="697.3">Trend Factor -10.3</text>
<text class="mono xl" x="0.79 5.86 10.93 16 21.07 26.14" y="709.1"  xml:space="preserve">Mar 18</text>
<text class="mono xl" x="45.22 50.29 55.36 60.43 65.5 70.57" y="709.1"  xml:space="preserve">Mar 28</text>
<text class="mono xl" x="92.19 97.26 102.33 107.4 112.47" y="709.1"  xml:space="preserve">Apr 8</text>
<text class="mono xl" x="134.09 139.16 144.23 149.3 154.37 159.44" y="709.1"  xml:space="preserve">Apr 17</text>
<text class="mono xl" x="181.06 186.13 191.2 196.27 201.34" y="709.1"  xml:space="preserve">May 2</text>
<text class="mono xl" x="222.97 228.04 233.11 238.18 243.25 248.32" y="709.1"  xml:space="preserve">May 13</text>
<text class="mono xl" x="267.4 272.47 277.54 282.61 287.68 292.75" y="709.1"  xml:space="preserve">May 22</text>
<text class="mono xl" x="314.37 319.44 324.51 329.58 334.65" y="709.1"  xml:space="preserve">Jun 2</text>
<text class="mono xl" x="356.27 361.34 366.41 371.48 376.55 381.62" y="709.1"  xml:space="preserve">Jun 11</text>
<text class="mono xl" x="400.71 405.78 410.85 415.92 420.99 426.06" y="709.1"  xml:space="preserve">Jun 23</text>
<text class="mono xl" x="447.68 452.75 457.82 462.89 467.96" y="709.1"  xml:space="preserve">Jul 2</text>
<text class="mono xl" x="489.58 494.65 499.72 504.79 509.86 514.93" y="709.1"  xml:space="preserve">Jul 11</text>
<text class="mono xl" x="534.02 539.09 544.16 549.23 554.3 559.37" y="709.1"  xml:space="preserve">Jul 22</text>
<text class="mono xl" x="578.45 583.52 588.59 593.66 598.73 603.8" y="709.1"  xml:space="preserve">Jul 31</text>
<text class="mono xl" x="622.89 627.96 633.03 638.1 643.17 648.24" y="709.1"  xml:space="preserve">Aug 11</text>
<text class="mono xl" x="667.33 672.4 677.47 682.54 687.61 692.68" y="709.1"  xml:space="preserve">Aug 2<tspan class="z">0</tspan></text>
<text class="mono xl" x="711.76 716.83 721.9 726.97 732.04 737.11" y="709.1"  xml:space="preserve">Aug 29</text>
<text class="mono xl" x="758.73 763.8 768.87 773.94 779.01" y="709.1"  xml:space="preserve">Sep 9</text>
<text class="mono xl" x="800.63 805.7 810.77 815.84 820.91 825.98" y="709.1"  xml:space="preserve">Sep 18</text>
<text class="mono xl" x="845.07 850.14 855.21 860.28 865.35 870.42" y="709.1"  xml:space="preserve">Sep 3<tspan class="z">0</tspan></text>
<text class="mono xl" x="892.04 897.11 902.18 907.25 912.32" y="709.1"  xml:space="preserve">Oct 9</text>
<text class="mono xl" x="933.94 939.01 944.08 949.15 954.22 959.29" y="709.1"  xml:space="preserve">Oct 2<tspan class="z">0</tspan></text>
</svg>
</body></html>
